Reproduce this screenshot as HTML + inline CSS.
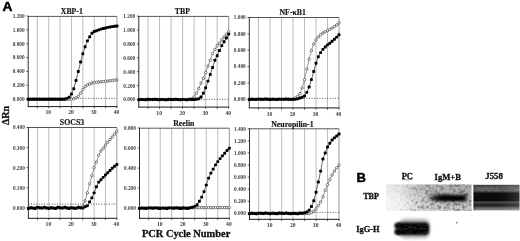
<!DOCTYPE html>
<html><head><meta charset="utf-8"><style>
html,body{margin:0;padding:0;background:#fff;}
body{width:520px;height:241px;overflow:hidden;filter:grayscale(1);}
svg{display:block;}
.tk{font-family:"Liberation Serif", serif;font-size:5.3px;font-weight:bold;fill:#3a3a3a;}
.tk[font-size]{font-size:5.6px;}
.ti{font-family:"Liberation Serif", serif;font-size:7.8px;font-weight:bold;fill:#111;stroke:#111;stroke-width:0.15px;}
.lb{font-family:"Liberation Serif", serif;font-weight:bold;fill:#111;stroke:#111;stroke-width:0.3px;}
.big{font-family:"Liberation Sans", sans-serif;font-weight:bold;fill:#000;stroke:#000;stroke-width:0.45px;}
</style></head><body>
<svg width="520" height="241" viewBox="0 0 520 241">
<rect width="520" height="241" fill="#fff"/>
<text transform="translate(2.4,10.6) scale(1.1,1)" class="big" font-size="12.5">A</text>
<text transform="translate(8.6,115.4) rotate(-90)" class="lb" font-size="10" text-anchor="middle">ΔRn</text>
<text x="186.1" y="237.2" class="lb" font-size="10.4" text-anchor="middle">PCR Cycle Number</text>
<line x1="37.31" y1="16.40" x2="37.31" y2="106.60" stroke="#b4b4b4" stroke-width="0.9"/>
<line x1="48.69" y1="16.40" x2="48.69" y2="106.60" stroke="#b4b4b4" stroke-width="0.9"/>
<line x1="60.08" y1="16.40" x2="60.08" y2="106.60" stroke="#b4b4b4" stroke-width="0.9"/>
<line x1="71.46" y1="16.40" x2="71.46" y2="106.60" stroke="#b4b4b4" stroke-width="0.9"/>
<line x1="82.85" y1="16.40" x2="82.85" y2="106.60" stroke="#b4b4b4" stroke-width="0.9"/>
<line x1="94.23" y1="16.40" x2="94.23" y2="106.60" stroke="#b4b4b4" stroke-width="0.9"/>
<line x1="105.62" y1="16.40" x2="105.62" y2="106.60" stroke="#b4b4b4" stroke-width="0.9"/>
<line x1="117.00" y1="16.40" x2="117.00" y2="106.60" stroke="#8c8c8c" stroke-width="0.9"/>
<line x1="28.20" y1="16.40" x2="117.00" y2="16.40" stroke="#444" stroke-width="0.9"/>
<line x1="28.20" y1="16.00" x2="28.20" y2="107.10" stroke="#1a1a1a" stroke-width="0.9"/>
<line x1="27.80" y1="106.60" x2="117.40" y2="106.60" stroke="#1a1a1a" stroke-width="1"/>
<line x1="37.31" y1="106.60" x2="37.31" y2="108.40" stroke="#1a1a1a" stroke-width="0.7"/>
<line x1="48.69" y1="106.60" x2="48.69" y2="108.40" stroke="#1a1a1a" stroke-width="0.7"/>
<line x1="60.08" y1="106.60" x2="60.08" y2="108.40" stroke="#1a1a1a" stroke-width="0.7"/>
<line x1="71.46" y1="106.60" x2="71.46" y2="108.40" stroke="#1a1a1a" stroke-width="0.7"/>
<line x1="82.85" y1="106.60" x2="82.85" y2="108.40" stroke="#1a1a1a" stroke-width="0.7"/>
<line x1="94.23" y1="106.60" x2="94.23" y2="108.40" stroke="#1a1a1a" stroke-width="0.7"/>
<line x1="105.62" y1="106.60" x2="105.62" y2="108.40" stroke="#1a1a1a" stroke-width="0.7"/>
<line x1="117.00" y1="106.60" x2="117.00" y2="108.40" stroke="#1a1a1a" stroke-width="0.7"/>
<text x="48.29" y="114.30" class="tk" font-size="5.6" text-anchor="middle">10</text>
<text x="71.06" y="114.30" class="tk" font-size="5.6" text-anchor="middle">20</text>
<text x="93.83" y="114.30" class="tk" font-size="5.6" text-anchor="middle">30</text>
<text x="116.60" y="114.30" class="tk" font-size="5.6" text-anchor="middle">40</text>
<line x1="26.30" y1="99.20" x2="28.20" y2="99.20" stroke="#1a1a1a" stroke-width="0.7"/>
<text x="24.60" y="101.10" class="tk" text-anchor="end">0.000</text>
<line x1="26.30" y1="85.32" x2="28.20" y2="85.32" stroke="#1a1a1a" stroke-width="0.7"/>
<text x="24.60" y="87.22" class="tk" text-anchor="end">0.200</text>
<line x1="26.30" y1="71.43" x2="28.20" y2="71.43" stroke="#1a1a1a" stroke-width="0.7"/>
<text x="24.60" y="73.33" class="tk" text-anchor="end">0.400</text>
<line x1="26.30" y1="57.55" x2="28.20" y2="57.55" stroke="#1a1a1a" stroke-width="0.7"/>
<text x="24.60" y="59.45" class="tk" text-anchor="end">0.600</text>
<line x1="26.30" y1="43.67" x2="28.20" y2="43.67" stroke="#1a1a1a" stroke-width="0.7"/>
<text x="24.60" y="45.57" class="tk" text-anchor="end">0.800</text>
<line x1="26.30" y1="29.78" x2="28.20" y2="29.78" stroke="#1a1a1a" stroke-width="0.7"/>
<text x="24.60" y="31.68" class="tk" text-anchor="end">1.000</text>
<line x1="26.30" y1="15.90" x2="28.20" y2="15.90" stroke="#1a1a1a" stroke-width="0.7"/>
<text x="24.60" y="17.80" class="tk" text-anchor="end">1.200</text>
<line x1="28.30" y1="98.30" x2="117.00" y2="98.30" stroke="#222" stroke-width="0.8" stroke-dasharray="1 1.6"/>
<text x="71.80" y="13.90" class="ti" text-anchor="middle">XBP-1</text>
<polyline points="28.20,99.20 30.48,99.20 32.75,99.20 35.03,99.20 37.31,99.20 39.58,99.20 41.86,99.20 44.14,99.20 46.42,99.20 48.69,99.20 50.97,99.20 53.25,99.20 55.52,99.20 57.80,99.20 60.08,99.20 62.35,99.20 64.63,99.20 66.91,99.20 69.18,99.20 71.46,99.20 73.74,98.64 76.02,97.81 78.29,96.42 80.57,93.30 82.85,89.48 85.12,86.70 87.40,84.97 89.68,83.93 91.95,83.10 94.23,82.54 96.51,82.19 98.78,81.95 101.06,81.71 103.34,81.50 105.62,81.29 107.89,81.01 110.17,80.74 112.45,80.46 114.72,80.18 117.00,79.90" fill="none" stroke="#333" stroke-width="0.5"/>
<circle cx="28.20" cy="99.20" r="1.25" fill="#fff" stroke="#1a1a1a" stroke-width="0.55"/>
<circle cx="30.48" cy="99.20" r="1.25" fill="#fff" stroke="#1a1a1a" stroke-width="0.55"/>
<circle cx="32.75" cy="99.20" r="1.25" fill="#fff" stroke="#1a1a1a" stroke-width="0.55"/>
<circle cx="35.03" cy="99.20" r="1.25" fill="#fff" stroke="#1a1a1a" stroke-width="0.55"/>
<circle cx="37.31" cy="99.20" r="1.25" fill="#fff" stroke="#1a1a1a" stroke-width="0.55"/>
<circle cx="39.58" cy="99.20" r="1.25" fill="#fff" stroke="#1a1a1a" stroke-width="0.55"/>
<circle cx="41.86" cy="99.20" r="1.25" fill="#fff" stroke="#1a1a1a" stroke-width="0.55"/>
<circle cx="44.14" cy="99.20" r="1.25" fill="#fff" stroke="#1a1a1a" stroke-width="0.55"/>
<circle cx="46.42" cy="99.20" r="1.25" fill="#fff" stroke="#1a1a1a" stroke-width="0.55"/>
<circle cx="48.69" cy="99.20" r="1.25" fill="#fff" stroke="#1a1a1a" stroke-width="0.55"/>
<circle cx="50.97" cy="99.20" r="1.25" fill="#fff" stroke="#1a1a1a" stroke-width="0.55"/>
<circle cx="53.25" cy="99.20" r="1.25" fill="#fff" stroke="#1a1a1a" stroke-width="0.55"/>
<circle cx="55.52" cy="99.20" r="1.25" fill="#fff" stroke="#1a1a1a" stroke-width="0.55"/>
<circle cx="57.80" cy="99.20" r="1.25" fill="#fff" stroke="#1a1a1a" stroke-width="0.55"/>
<circle cx="60.08" cy="99.20" r="1.25" fill="#fff" stroke="#1a1a1a" stroke-width="0.55"/>
<circle cx="62.35" cy="99.20" r="1.25" fill="#fff" stroke="#1a1a1a" stroke-width="0.55"/>
<circle cx="64.63" cy="99.20" r="1.25" fill="#fff" stroke="#1a1a1a" stroke-width="0.55"/>
<circle cx="66.91" cy="99.20" r="1.25" fill="#fff" stroke="#1a1a1a" stroke-width="0.55"/>
<circle cx="69.18" cy="99.20" r="1.25" fill="#fff" stroke="#1a1a1a" stroke-width="0.55"/>
<circle cx="71.46" cy="99.20" r="1.25" fill="#fff" stroke="#1a1a1a" stroke-width="0.55"/>
<circle cx="73.74" cy="98.64" r="1.25" fill="#fff" stroke="#1a1a1a" stroke-width="0.55"/>
<circle cx="76.02" cy="97.81" r="1.25" fill="#fff" stroke="#1a1a1a" stroke-width="0.55"/>
<circle cx="78.29" cy="96.42" r="1.25" fill="#fff" stroke="#1a1a1a" stroke-width="0.55"/>
<circle cx="80.57" cy="93.30" r="1.25" fill="#fff" stroke="#1a1a1a" stroke-width="0.55"/>
<circle cx="82.85" cy="89.48" r="1.25" fill="#fff" stroke="#1a1a1a" stroke-width="0.55"/>
<circle cx="85.12" cy="86.70" r="1.25" fill="#fff" stroke="#1a1a1a" stroke-width="0.55"/>
<circle cx="87.40" cy="84.97" r="1.25" fill="#fff" stroke="#1a1a1a" stroke-width="0.55"/>
<circle cx="89.68" cy="83.93" r="1.25" fill="#fff" stroke="#1a1a1a" stroke-width="0.55"/>
<circle cx="91.95" cy="83.10" r="1.25" fill="#fff" stroke="#1a1a1a" stroke-width="0.55"/>
<circle cx="94.23" cy="82.54" r="1.25" fill="#fff" stroke="#1a1a1a" stroke-width="0.55"/>
<circle cx="96.51" cy="82.19" r="1.25" fill="#fff" stroke="#1a1a1a" stroke-width="0.55"/>
<circle cx="98.78" cy="81.95" r="1.25" fill="#fff" stroke="#1a1a1a" stroke-width="0.55"/>
<circle cx="101.06" cy="81.71" r="1.25" fill="#fff" stroke="#1a1a1a" stroke-width="0.55"/>
<circle cx="103.34" cy="81.50" r="1.25" fill="#fff" stroke="#1a1a1a" stroke-width="0.55"/>
<circle cx="105.62" cy="81.29" r="1.25" fill="#fff" stroke="#1a1a1a" stroke-width="0.55"/>
<circle cx="107.89" cy="81.01" r="1.25" fill="#fff" stroke="#1a1a1a" stroke-width="0.55"/>
<circle cx="110.17" cy="80.74" r="1.25" fill="#fff" stroke="#1a1a1a" stroke-width="0.55"/>
<circle cx="112.45" cy="80.46" r="1.25" fill="#fff" stroke="#1a1a1a" stroke-width="0.55"/>
<circle cx="114.72" cy="80.18" r="1.25" fill="#fff" stroke="#1a1a1a" stroke-width="0.55"/>
<circle cx="117.00" cy="79.90" r="1.25" fill="#fff" stroke="#1a1a1a" stroke-width="0.55"/>
<polyline points="28.20,99.20 30.48,99.20 32.75,99.20 35.03,99.20 37.31,99.20 39.58,99.20 41.86,99.20 44.14,99.20 46.42,99.20 48.69,99.20 50.97,99.20 53.25,99.20 55.52,99.20 57.80,99.20 60.08,99.20 62.35,99.20 64.63,99.20 66.91,98.37 69.18,97.12 71.46,93.99 73.74,88.79 76.02,80.46 78.29,71.43 80.57,62.06 82.85,53.73 85.12,46.79 87.40,40.89 89.68,36.72 91.95,33.25 94.23,31.52 96.51,30.71 98.78,29.90 101.06,29.09 103.34,28.51 105.62,27.93 107.89,27.35 110.17,27.01 112.45,26.66 114.72,26.31 117.00,25.97" fill="none" stroke="#000" stroke-width="0.6"/>
<rect x="26.75" y="97.75" width="2.9" height="2.9" rx="0.75" fill="#000"/>
<rect x="29.03" y="97.75" width="2.9" height="2.9" rx="0.75" fill="#000"/>
<rect x="31.30" y="97.75" width="2.9" height="2.9" rx="0.75" fill="#000"/>
<rect x="33.58" y="97.75" width="2.9" height="2.9" rx="0.75" fill="#000"/>
<rect x="35.86" y="97.75" width="2.9" height="2.9" rx="0.75" fill="#000"/>
<rect x="38.13" y="97.75" width="2.9" height="2.9" rx="0.75" fill="#000"/>
<rect x="40.41" y="97.75" width="2.9" height="2.9" rx="0.75" fill="#000"/>
<rect x="42.69" y="97.75" width="2.9" height="2.9" rx="0.75" fill="#000"/>
<rect x="44.97" y="97.75" width="2.9" height="2.9" rx="0.75" fill="#000"/>
<rect x="47.24" y="97.75" width="2.9" height="2.9" rx="0.75" fill="#000"/>
<rect x="49.52" y="97.75" width="2.9" height="2.9" rx="0.75" fill="#000"/>
<rect x="51.80" y="97.75" width="2.9" height="2.9" rx="0.75" fill="#000"/>
<rect x="54.07" y="97.75" width="2.9" height="2.9" rx="0.75" fill="#000"/>
<rect x="56.35" y="97.75" width="2.9" height="2.9" rx="0.75" fill="#000"/>
<rect x="58.63" y="97.75" width="2.9" height="2.9" rx="0.75" fill="#000"/>
<rect x="60.90" y="97.75" width="2.9" height="2.9" rx="0.75" fill="#000"/>
<rect x="63.18" y="97.75" width="2.9" height="2.9" rx="0.75" fill="#000"/>
<rect x="65.46" y="96.92" width="2.9" height="2.9" rx="0.75" fill="#000"/>
<rect x="67.73" y="95.67" width="2.9" height="2.9" rx="0.75" fill="#000"/>
<rect x="70.01" y="92.54" width="2.9" height="2.9" rx="0.75" fill="#000"/>
<rect x="72.29" y="87.34" width="2.9" height="2.9" rx="0.75" fill="#000"/>
<rect x="74.57" y="79.01" width="2.9" height="2.9" rx="0.75" fill="#000"/>
<rect x="76.84" y="69.98" width="2.9" height="2.9" rx="0.75" fill="#000"/>
<rect x="79.12" y="60.61" width="2.9" height="2.9" rx="0.75" fill="#000"/>
<rect x="81.40" y="52.28" width="2.9" height="2.9" rx="0.75" fill="#000"/>
<rect x="83.67" y="45.34" width="2.9" height="2.9" rx="0.75" fill="#000"/>
<rect x="85.95" y="39.44" width="2.9" height="2.9" rx="0.75" fill="#000"/>
<rect x="88.23" y="35.27" width="2.9" height="2.9" rx="0.75" fill="#000"/>
<rect x="90.50" y="31.80" width="2.9" height="2.9" rx="0.75" fill="#000"/>
<rect x="92.78" y="30.07" width="2.9" height="2.9" rx="0.75" fill="#000"/>
<rect x="95.06" y="29.26" width="2.9" height="2.9" rx="0.75" fill="#000"/>
<rect x="97.33" y="28.45" width="2.9" height="2.9" rx="0.75" fill="#000"/>
<rect x="99.61" y="27.64" width="2.9" height="2.9" rx="0.75" fill="#000"/>
<rect x="101.89" y="27.06" width="2.9" height="2.9" rx="0.75" fill="#000"/>
<rect x="104.17" y="26.48" width="2.9" height="2.9" rx="0.75" fill="#000"/>
<rect x="106.44" y="25.90" width="2.9" height="2.9" rx="0.75" fill="#000"/>
<rect x="108.72" y="25.56" width="2.9" height="2.9" rx="0.75" fill="#000"/>
<rect x="111.00" y="25.21" width="2.9" height="2.9" rx="0.75" fill="#000"/>
<rect x="113.27" y="24.86" width="2.9" height="2.9" rx="0.75" fill="#000"/>
<rect x="115.55" y="24.52" width="2.9" height="2.9" rx="0.75" fill="#000"/>
<line x1="148.02" y1="16.40" x2="148.02" y2="107.10" stroke="#b4b4b4" stroke-width="0.9"/>
<line x1="159.55" y1="16.40" x2="159.55" y2="107.10" stroke="#b4b4b4" stroke-width="0.9"/>
<line x1="171.07" y1="16.40" x2="171.07" y2="107.10" stroke="#b4b4b4" stroke-width="0.9"/>
<line x1="182.60" y1="16.40" x2="182.60" y2="107.10" stroke="#b4b4b4" stroke-width="0.9"/>
<line x1="194.12" y1="16.40" x2="194.12" y2="107.10" stroke="#b4b4b4" stroke-width="0.9"/>
<line x1="205.65" y1="16.40" x2="205.65" y2="107.10" stroke="#b4b4b4" stroke-width="0.9"/>
<line x1="217.17" y1="16.40" x2="217.17" y2="107.10" stroke="#b4b4b4" stroke-width="0.9"/>
<line x1="228.70" y1="16.40" x2="228.70" y2="107.10" stroke="#8c8c8c" stroke-width="0.9"/>
<line x1="138.80" y1="16.40" x2="228.70" y2="16.40" stroke="#444" stroke-width="0.9"/>
<line x1="138.80" y1="16.00" x2="138.80" y2="107.60" stroke="#1a1a1a" stroke-width="0.9"/>
<line x1="138.40" y1="107.10" x2="229.10" y2="107.10" stroke="#1a1a1a" stroke-width="1"/>
<line x1="148.02" y1="107.10" x2="148.02" y2="108.90" stroke="#1a1a1a" stroke-width="0.7"/>
<line x1="159.55" y1="107.10" x2="159.55" y2="108.90" stroke="#1a1a1a" stroke-width="0.7"/>
<line x1="171.07" y1="107.10" x2="171.07" y2="108.90" stroke="#1a1a1a" stroke-width="0.7"/>
<line x1="182.60" y1="107.10" x2="182.60" y2="108.90" stroke="#1a1a1a" stroke-width="0.7"/>
<line x1="194.12" y1="107.10" x2="194.12" y2="108.90" stroke="#1a1a1a" stroke-width="0.7"/>
<line x1="205.65" y1="107.10" x2="205.65" y2="108.90" stroke="#1a1a1a" stroke-width="0.7"/>
<line x1="217.17" y1="107.10" x2="217.17" y2="108.90" stroke="#1a1a1a" stroke-width="0.7"/>
<line x1="228.70" y1="107.10" x2="228.70" y2="108.90" stroke="#1a1a1a" stroke-width="0.7"/>
<text x="159.15" y="114.80" class="tk" font-size="5.6" text-anchor="middle">10</text>
<text x="182.20" y="114.80" class="tk" font-size="5.6" text-anchor="middle">20</text>
<text x="205.25" y="114.80" class="tk" font-size="5.6" text-anchor="middle">30</text>
<text x="228.30" y="114.80" class="tk" font-size="5.6" text-anchor="middle">40</text>
<line x1="136.90" y1="99.50" x2="138.80" y2="99.50" stroke="#1a1a1a" stroke-width="0.7"/>
<text x="135.20" y="101.40" class="tk" text-anchor="end">0.000</text>
<line x1="136.90" y1="85.60" x2="138.80" y2="85.60" stroke="#1a1a1a" stroke-width="0.7"/>
<text x="135.20" y="87.50" class="tk" text-anchor="end">0.200</text>
<line x1="136.90" y1="71.70" x2="138.80" y2="71.70" stroke="#1a1a1a" stroke-width="0.7"/>
<text x="135.20" y="73.60" class="tk" text-anchor="end">0.400</text>
<line x1="136.90" y1="57.80" x2="138.80" y2="57.80" stroke="#1a1a1a" stroke-width="0.7"/>
<text x="135.20" y="59.70" class="tk" text-anchor="end">0.600</text>
<line x1="136.90" y1="43.90" x2="138.80" y2="43.90" stroke="#1a1a1a" stroke-width="0.7"/>
<text x="135.20" y="45.80" class="tk" text-anchor="end">0.800</text>
<line x1="136.90" y1="30.00" x2="138.80" y2="30.00" stroke="#1a1a1a" stroke-width="0.7"/>
<text x="135.20" y="31.90" class="tk" text-anchor="end">1.000</text>
<line x1="136.90" y1="16.10" x2="138.80" y2="16.10" stroke="#1a1a1a" stroke-width="0.7"/>
<text x="135.20" y="18.00" class="tk" text-anchor="end">1.200</text>
<line x1="138.80" y1="99.30" x2="228.70" y2="99.30" stroke="#222" stroke-width="0.8" stroke-dasharray="1 1.6"/>
<text x="182.40" y="13.90" class="ti" text-anchor="middle">TBP</text>
<polyline points="138.80,99.50 141.11,99.50 143.41,99.50 145.72,99.50 148.02,99.50 150.33,99.50 152.63,99.50 154.94,99.50 157.24,99.50 159.55,99.50 161.85,99.50 164.16,99.50 166.46,99.50 168.77,99.50 171.07,99.50 173.38,99.50 175.68,99.50 177.99,99.50 180.29,99.50 182.60,99.50 184.90,99.50 187.21,99.50 189.51,99.50 191.82,98.81 194.12,97.07 196.43,93.25 198.73,88.38 201.04,83.17 203.34,78.30 205.65,72.39 207.95,66.14 210.26,60.23 212.56,53.63 214.87,49.46 217.17,45.64 219.48,43.20 221.78,39.73 224.09,36.95 226.39,34.17 228.70,31.74" fill="none" stroke="#333" stroke-width="0.5"/>
<circle cx="138.80" cy="99.50" r="1.25" fill="#fff" stroke="#1a1a1a" stroke-width="0.55"/>
<circle cx="141.11" cy="99.50" r="1.25" fill="#fff" stroke="#1a1a1a" stroke-width="0.55"/>
<circle cx="143.41" cy="99.50" r="1.25" fill="#fff" stroke="#1a1a1a" stroke-width="0.55"/>
<circle cx="145.72" cy="99.50" r="1.25" fill="#fff" stroke="#1a1a1a" stroke-width="0.55"/>
<circle cx="148.02" cy="99.50" r="1.25" fill="#fff" stroke="#1a1a1a" stroke-width="0.55"/>
<circle cx="150.33" cy="99.50" r="1.25" fill="#fff" stroke="#1a1a1a" stroke-width="0.55"/>
<circle cx="152.63" cy="99.50" r="1.25" fill="#fff" stroke="#1a1a1a" stroke-width="0.55"/>
<circle cx="154.94" cy="99.50" r="1.25" fill="#fff" stroke="#1a1a1a" stroke-width="0.55"/>
<circle cx="157.24" cy="99.50" r="1.25" fill="#fff" stroke="#1a1a1a" stroke-width="0.55"/>
<circle cx="159.55" cy="99.50" r="1.25" fill="#fff" stroke="#1a1a1a" stroke-width="0.55"/>
<circle cx="161.85" cy="99.50" r="1.25" fill="#fff" stroke="#1a1a1a" stroke-width="0.55"/>
<circle cx="164.16" cy="99.50" r="1.25" fill="#fff" stroke="#1a1a1a" stroke-width="0.55"/>
<circle cx="166.46" cy="99.50" r="1.25" fill="#fff" stroke="#1a1a1a" stroke-width="0.55"/>
<circle cx="168.77" cy="99.50" r="1.25" fill="#fff" stroke="#1a1a1a" stroke-width="0.55"/>
<circle cx="171.07" cy="99.50" r="1.25" fill="#fff" stroke="#1a1a1a" stroke-width="0.55"/>
<circle cx="173.38" cy="99.50" r="1.25" fill="#fff" stroke="#1a1a1a" stroke-width="0.55"/>
<circle cx="175.68" cy="99.50" r="1.25" fill="#fff" stroke="#1a1a1a" stroke-width="0.55"/>
<circle cx="177.99" cy="99.50" r="1.25" fill="#fff" stroke="#1a1a1a" stroke-width="0.55"/>
<circle cx="180.29" cy="99.50" r="1.25" fill="#fff" stroke="#1a1a1a" stroke-width="0.55"/>
<circle cx="182.60" cy="99.50" r="1.25" fill="#fff" stroke="#1a1a1a" stroke-width="0.55"/>
<circle cx="184.90" cy="99.50" r="1.25" fill="#fff" stroke="#1a1a1a" stroke-width="0.55"/>
<circle cx="187.21" cy="99.50" r="1.25" fill="#fff" stroke="#1a1a1a" stroke-width="0.55"/>
<circle cx="189.51" cy="99.50" r="1.25" fill="#fff" stroke="#1a1a1a" stroke-width="0.55"/>
<circle cx="191.82" cy="98.81" r="1.25" fill="#fff" stroke="#1a1a1a" stroke-width="0.55"/>
<circle cx="194.12" cy="97.07" r="1.25" fill="#fff" stroke="#1a1a1a" stroke-width="0.55"/>
<circle cx="196.43" cy="93.25" r="1.25" fill="#fff" stroke="#1a1a1a" stroke-width="0.55"/>
<circle cx="198.73" cy="88.38" r="1.25" fill="#fff" stroke="#1a1a1a" stroke-width="0.55"/>
<circle cx="201.04" cy="83.17" r="1.25" fill="#fff" stroke="#1a1a1a" stroke-width="0.55"/>
<circle cx="203.34" cy="78.30" r="1.25" fill="#fff" stroke="#1a1a1a" stroke-width="0.55"/>
<circle cx="205.65" cy="72.39" r="1.25" fill="#fff" stroke="#1a1a1a" stroke-width="0.55"/>
<circle cx="207.95" cy="66.14" r="1.25" fill="#fff" stroke="#1a1a1a" stroke-width="0.55"/>
<circle cx="210.26" cy="60.23" r="1.25" fill="#fff" stroke="#1a1a1a" stroke-width="0.55"/>
<circle cx="212.56" cy="53.63" r="1.25" fill="#fff" stroke="#1a1a1a" stroke-width="0.55"/>
<circle cx="214.87" cy="49.46" r="1.25" fill="#fff" stroke="#1a1a1a" stroke-width="0.55"/>
<circle cx="217.17" cy="45.64" r="1.25" fill="#fff" stroke="#1a1a1a" stroke-width="0.55"/>
<circle cx="219.48" cy="43.20" r="1.25" fill="#fff" stroke="#1a1a1a" stroke-width="0.55"/>
<circle cx="221.78" cy="39.73" r="1.25" fill="#fff" stroke="#1a1a1a" stroke-width="0.55"/>
<circle cx="224.09" cy="36.95" r="1.25" fill="#fff" stroke="#1a1a1a" stroke-width="0.55"/>
<circle cx="226.39" cy="34.17" r="1.25" fill="#fff" stroke="#1a1a1a" stroke-width="0.55"/>
<circle cx="228.70" cy="31.74" r="1.25" fill="#fff" stroke="#1a1a1a" stroke-width="0.55"/>
<polyline points="138.80,99.74 141.11,99.42 143.41,99.59 145.72,99.70 148.02,99.29 150.33,99.42 152.63,99.57 154.94,99.26 157.24,99.51 159.55,99.73 161.85,99.42 164.16,99.60 166.46,99.70 168.77,99.28 171.07,99.43 173.38,99.57 175.68,99.26 177.99,99.52 180.29,99.73 182.60,99.42 184.90,99.61 187.21,99.69 189.51,99.28 191.82,99.44 194.12,99.56 196.43,99.25 198.73,98.81 201.04,97.07 203.34,93.25 205.65,87.69 207.95,81.08 210.26,74.48 212.56,67.53 214.87,60.23 217.17,55.71 219.48,50.50 221.78,45.64 224.09,41.81 226.39,37.99 228.70,34.17" fill="none" stroke="#000" stroke-width="0.6"/>
<rect x="137.35" y="98.29" width="2.9" height="2.9" rx="0.75" fill="#000"/>
<rect x="139.66" y="97.97" width="2.9" height="2.9" rx="0.75" fill="#000"/>
<rect x="141.96" y="98.14" width="2.9" height="2.9" rx="0.75" fill="#000"/>
<rect x="144.27" y="98.25" width="2.9" height="2.9" rx="0.75" fill="#000"/>
<rect x="146.57" y="97.84" width="2.9" height="2.9" rx="0.75" fill="#000"/>
<rect x="148.88" y="97.97" width="2.9" height="2.9" rx="0.75" fill="#000"/>
<rect x="151.18" y="98.12" width="2.9" height="2.9" rx="0.75" fill="#000"/>
<rect x="153.49" y="97.81" width="2.9" height="2.9" rx="0.75" fill="#000"/>
<rect x="155.79" y="98.06" width="2.9" height="2.9" rx="0.75" fill="#000"/>
<rect x="158.10" y="98.28" width="2.9" height="2.9" rx="0.75" fill="#000"/>
<rect x="160.40" y="97.97" width="2.9" height="2.9" rx="0.75" fill="#000"/>
<rect x="162.71" y="98.15" width="2.9" height="2.9" rx="0.75" fill="#000"/>
<rect x="165.01" y="98.25" width="2.9" height="2.9" rx="0.75" fill="#000"/>
<rect x="167.32" y="97.83" width="2.9" height="2.9" rx="0.75" fill="#000"/>
<rect x="169.62" y="97.98" width="2.9" height="2.9" rx="0.75" fill="#000"/>
<rect x="171.93" y="98.12" width="2.9" height="2.9" rx="0.75" fill="#000"/>
<rect x="174.23" y="97.81" width="2.9" height="2.9" rx="0.75" fill="#000"/>
<rect x="176.54" y="98.07" width="2.9" height="2.9" rx="0.75" fill="#000"/>
<rect x="178.84" y="98.28" width="2.9" height="2.9" rx="0.75" fill="#000"/>
<rect x="181.15" y="97.97" width="2.9" height="2.9" rx="0.75" fill="#000"/>
<rect x="183.45" y="98.16" width="2.9" height="2.9" rx="0.75" fill="#000"/>
<rect x="185.76" y="98.24" width="2.9" height="2.9" rx="0.75" fill="#000"/>
<rect x="188.06" y="97.83" width="2.9" height="2.9" rx="0.75" fill="#000"/>
<rect x="190.37" y="97.99" width="2.9" height="2.9" rx="0.75" fill="#000"/>
<rect x="192.67" y="98.11" width="2.9" height="2.9" rx="0.75" fill="#000"/>
<rect x="194.98" y="97.80" width="2.9" height="2.9" rx="0.75" fill="#000"/>
<rect x="197.28" y="97.36" width="2.9" height="2.9" rx="0.75" fill="#000"/>
<rect x="199.59" y="95.62" width="2.9" height="2.9" rx="0.75" fill="#000"/>
<rect x="201.89" y="91.80" width="2.9" height="2.9" rx="0.75" fill="#000"/>
<rect x="204.20" y="86.23" width="2.9" height="2.9" rx="0.75" fill="#000"/>
<rect x="206.50" y="79.63" width="2.9" height="2.9" rx="0.75" fill="#000"/>
<rect x="208.81" y="73.03" width="2.9" height="2.9" rx="0.75" fill="#000"/>
<rect x="211.11" y="66.08" width="2.9" height="2.9" rx="0.75" fill="#000"/>
<rect x="213.42" y="58.78" width="2.9" height="2.9" rx="0.75" fill="#000"/>
<rect x="215.72" y="54.26" width="2.9" height="2.9" rx="0.75" fill="#000"/>
<rect x="218.03" y="49.05" width="2.9" height="2.9" rx="0.75" fill="#000"/>
<rect x="220.33" y="44.19" width="2.9" height="2.9" rx="0.75" fill="#000"/>
<rect x="222.64" y="40.36" width="2.9" height="2.9" rx="0.75" fill="#000"/>
<rect x="224.94" y="36.54" width="2.9" height="2.9" rx="0.75" fill="#000"/>
<rect x="227.25" y="32.72" width="2.9" height="2.9" rx="0.75" fill="#000"/>
<line x1="258.50" y1="17.50" x2="258.50" y2="107.90" stroke="#b4b4b4" stroke-width="0.9"/>
<line x1="270.00" y1="17.50" x2="270.00" y2="107.90" stroke="#b4b4b4" stroke-width="0.9"/>
<line x1="281.50" y1="17.50" x2="281.50" y2="107.90" stroke="#b4b4b4" stroke-width="0.9"/>
<line x1="293.00" y1="17.50" x2="293.00" y2="107.90" stroke="#b4b4b4" stroke-width="0.9"/>
<line x1="304.50" y1="17.50" x2="304.50" y2="107.90" stroke="#b4b4b4" stroke-width="0.9"/>
<line x1="316.00" y1="17.50" x2="316.00" y2="107.90" stroke="#b4b4b4" stroke-width="0.9"/>
<line x1="327.50" y1="17.50" x2="327.50" y2="107.90" stroke="#b4b4b4" stroke-width="0.9"/>
<line x1="339.00" y1="17.50" x2="339.00" y2="107.90" stroke="#8c8c8c" stroke-width="0.9"/>
<line x1="249.30" y1="17.50" x2="339.00" y2="17.50" stroke="#444" stroke-width="0.9"/>
<line x1="249.30" y1="17.10" x2="249.30" y2="108.40" stroke="#1a1a1a" stroke-width="0.9"/>
<line x1="248.90" y1="107.90" x2="339.40" y2="107.90" stroke="#1a1a1a" stroke-width="1"/>
<line x1="258.50" y1="107.90" x2="258.50" y2="109.70" stroke="#1a1a1a" stroke-width="0.7"/>
<line x1="270.00" y1="107.90" x2="270.00" y2="109.70" stroke="#1a1a1a" stroke-width="0.7"/>
<line x1="281.50" y1="107.90" x2="281.50" y2="109.70" stroke="#1a1a1a" stroke-width="0.7"/>
<line x1="293.00" y1="107.90" x2="293.00" y2="109.70" stroke="#1a1a1a" stroke-width="0.7"/>
<line x1="304.50" y1="107.90" x2="304.50" y2="109.70" stroke="#1a1a1a" stroke-width="0.7"/>
<line x1="316.00" y1="107.90" x2="316.00" y2="109.70" stroke="#1a1a1a" stroke-width="0.7"/>
<line x1="327.50" y1="107.90" x2="327.50" y2="109.70" stroke="#1a1a1a" stroke-width="0.7"/>
<line x1="339.00" y1="107.90" x2="339.00" y2="109.70" stroke="#1a1a1a" stroke-width="0.7"/>
<text x="269.60" y="115.60" class="tk" font-size="5.6" text-anchor="middle">10</text>
<text x="292.60" y="115.60" class="tk" font-size="5.6" text-anchor="middle">20</text>
<text x="315.60" y="115.60" class="tk" font-size="5.6" text-anchor="middle">30</text>
<text x="338.60" y="115.60" class="tk" font-size="5.6" text-anchor="middle">40</text>
<line x1="247.40" y1="99.30" x2="249.30" y2="99.30" stroke="#1a1a1a" stroke-width="0.7"/>
<text x="245.70" y="101.20" class="tk" text-anchor="end">0.000</text>
<line x1="247.40" y1="82.94" x2="249.30" y2="82.94" stroke="#1a1a1a" stroke-width="0.7"/>
<text x="245.70" y="84.84" class="tk" text-anchor="end">0.200</text>
<line x1="247.40" y1="66.58" x2="249.30" y2="66.58" stroke="#1a1a1a" stroke-width="0.7"/>
<text x="245.70" y="68.48" class="tk" text-anchor="end">0.400</text>
<line x1="247.40" y1="50.22" x2="249.30" y2="50.22" stroke="#1a1a1a" stroke-width="0.7"/>
<text x="245.70" y="52.12" class="tk" text-anchor="end">0.600</text>
<line x1="247.40" y1="33.86" x2="249.30" y2="33.86" stroke="#1a1a1a" stroke-width="0.7"/>
<text x="245.70" y="35.76" class="tk" text-anchor="end">0.800</text>
<line x1="247.40" y1="17.50" x2="249.30" y2="17.50" stroke="#1a1a1a" stroke-width="0.7"/>
<text x="245.70" y="19.40" class="tk" text-anchor="end">1.000</text>
<line x1="249.20" y1="98.30" x2="339.00" y2="98.30" stroke="#222" stroke-width="0.8" stroke-dasharray="1 1.6"/>
<text x="292.70" y="14.80" class="ti" text-anchor="middle">NF-κB1</text>
<polyline points="249.30,99.30 251.60,99.30 253.90,99.30 256.20,99.30 258.50,99.30 260.80,99.30 263.10,99.30 265.40,99.30 267.70,99.30 270.00,99.30 272.30,99.30 274.60,99.30 276.90,99.30 279.20,99.30 281.50,99.30 283.80,99.30 286.10,99.30 288.40,99.30 290.70,99.30 293.00,99.30 295.30,98.07 297.60,96.44 299.90,93.57 302.20,87.85 304.50,79.67 306.80,69.03 309.10,59.22 311.40,50.63 313.70,44.08 316.00,40.00 318.30,36.97 320.60,34.68 322.90,33.04 325.20,31.81 327.50,30.59 329.80,29.36 332.10,28.13 334.40,26.50 336.70,24.86 339.00,22.82" fill="none" stroke="#333" stroke-width="0.5"/>
<circle cx="249.30" cy="99.30" r="1.25" fill="#fff" stroke="#1a1a1a" stroke-width="0.55"/>
<circle cx="251.60" cy="99.30" r="1.25" fill="#fff" stroke="#1a1a1a" stroke-width="0.55"/>
<circle cx="253.90" cy="99.30" r="1.25" fill="#fff" stroke="#1a1a1a" stroke-width="0.55"/>
<circle cx="256.20" cy="99.30" r="1.25" fill="#fff" stroke="#1a1a1a" stroke-width="0.55"/>
<circle cx="258.50" cy="99.30" r="1.25" fill="#fff" stroke="#1a1a1a" stroke-width="0.55"/>
<circle cx="260.80" cy="99.30" r="1.25" fill="#fff" stroke="#1a1a1a" stroke-width="0.55"/>
<circle cx="263.10" cy="99.30" r="1.25" fill="#fff" stroke="#1a1a1a" stroke-width="0.55"/>
<circle cx="265.40" cy="99.30" r="1.25" fill="#fff" stroke="#1a1a1a" stroke-width="0.55"/>
<circle cx="267.70" cy="99.30" r="1.25" fill="#fff" stroke="#1a1a1a" stroke-width="0.55"/>
<circle cx="270.00" cy="99.30" r="1.25" fill="#fff" stroke="#1a1a1a" stroke-width="0.55"/>
<circle cx="272.30" cy="99.30" r="1.25" fill="#fff" stroke="#1a1a1a" stroke-width="0.55"/>
<circle cx="274.60" cy="99.30" r="1.25" fill="#fff" stroke="#1a1a1a" stroke-width="0.55"/>
<circle cx="276.90" cy="99.30" r="1.25" fill="#fff" stroke="#1a1a1a" stroke-width="0.55"/>
<circle cx="279.20" cy="99.30" r="1.25" fill="#fff" stroke="#1a1a1a" stroke-width="0.55"/>
<circle cx="281.50" cy="99.30" r="1.25" fill="#fff" stroke="#1a1a1a" stroke-width="0.55"/>
<circle cx="283.80" cy="99.30" r="1.25" fill="#fff" stroke="#1a1a1a" stroke-width="0.55"/>
<circle cx="286.10" cy="99.30" r="1.25" fill="#fff" stroke="#1a1a1a" stroke-width="0.55"/>
<circle cx="288.40" cy="99.30" r="1.25" fill="#fff" stroke="#1a1a1a" stroke-width="0.55"/>
<circle cx="290.70" cy="99.30" r="1.25" fill="#fff" stroke="#1a1a1a" stroke-width="0.55"/>
<circle cx="293.00" cy="99.30" r="1.25" fill="#fff" stroke="#1a1a1a" stroke-width="0.55"/>
<circle cx="295.30" cy="98.07" r="1.25" fill="#fff" stroke="#1a1a1a" stroke-width="0.55"/>
<circle cx="297.60" cy="96.44" r="1.25" fill="#fff" stroke="#1a1a1a" stroke-width="0.55"/>
<circle cx="299.90" cy="93.57" r="1.25" fill="#fff" stroke="#1a1a1a" stroke-width="0.55"/>
<circle cx="302.20" cy="87.85" r="1.25" fill="#fff" stroke="#1a1a1a" stroke-width="0.55"/>
<circle cx="304.50" cy="79.67" r="1.25" fill="#fff" stroke="#1a1a1a" stroke-width="0.55"/>
<circle cx="306.80" cy="69.03" r="1.25" fill="#fff" stroke="#1a1a1a" stroke-width="0.55"/>
<circle cx="309.10" cy="59.22" r="1.25" fill="#fff" stroke="#1a1a1a" stroke-width="0.55"/>
<circle cx="311.40" cy="50.63" r="1.25" fill="#fff" stroke="#1a1a1a" stroke-width="0.55"/>
<circle cx="313.70" cy="44.08" r="1.25" fill="#fff" stroke="#1a1a1a" stroke-width="0.55"/>
<circle cx="316.00" cy="40.00" r="1.25" fill="#fff" stroke="#1a1a1a" stroke-width="0.55"/>
<circle cx="318.30" cy="36.97" r="1.25" fill="#fff" stroke="#1a1a1a" stroke-width="0.55"/>
<circle cx="320.60" cy="34.68" r="1.25" fill="#fff" stroke="#1a1a1a" stroke-width="0.55"/>
<circle cx="322.90" cy="33.04" r="1.25" fill="#fff" stroke="#1a1a1a" stroke-width="0.55"/>
<circle cx="325.20" cy="31.81" r="1.25" fill="#fff" stroke="#1a1a1a" stroke-width="0.55"/>
<circle cx="327.50" cy="30.59" r="1.25" fill="#fff" stroke="#1a1a1a" stroke-width="0.55"/>
<circle cx="329.80" cy="29.36" r="1.25" fill="#fff" stroke="#1a1a1a" stroke-width="0.55"/>
<circle cx="332.10" cy="28.13" r="1.25" fill="#fff" stroke="#1a1a1a" stroke-width="0.55"/>
<circle cx="334.40" cy="26.50" r="1.25" fill="#fff" stroke="#1a1a1a" stroke-width="0.55"/>
<circle cx="336.70" cy="24.86" r="1.25" fill="#fff" stroke="#1a1a1a" stroke-width="0.55"/>
<circle cx="339.00" cy="22.82" r="1.25" fill="#fff" stroke="#1a1a1a" stroke-width="0.55"/>
<polyline points="249.30,99.54 251.60,99.22 253.90,99.39 256.20,99.50 258.50,99.09 260.80,99.22 263.10,99.37 265.40,99.06 267.70,99.31 270.00,99.53 272.30,99.22 274.60,99.40 276.90,99.50 279.20,99.08 281.50,99.23 283.80,99.37 286.10,99.06 288.40,99.32 290.70,99.53 293.00,99.22 295.30,99.41 297.60,98.84 299.90,98.07 302.20,97.25 304.50,96.03 306.80,92.35 309.10,87.03 311.40,79.67 313.70,71.49 316.00,63.31 318.30,56.76 320.60,52.67 322.90,49.40 325.20,46.95 327.50,44.90 329.80,43.27 332.10,41.22 334.40,39.18 336.70,37.13 339.00,34.68" fill="none" stroke="#000" stroke-width="0.6"/>
<rect x="247.85" y="98.09" width="2.9" height="2.9" rx="0.75" fill="#000"/>
<rect x="250.15" y="97.77" width="2.9" height="2.9" rx="0.75" fill="#000"/>
<rect x="252.45" y="97.94" width="2.9" height="2.9" rx="0.75" fill="#000"/>
<rect x="254.75" y="98.05" width="2.9" height="2.9" rx="0.75" fill="#000"/>
<rect x="257.05" y="97.64" width="2.9" height="2.9" rx="0.75" fill="#000"/>
<rect x="259.35" y="97.77" width="2.9" height="2.9" rx="0.75" fill="#000"/>
<rect x="261.65" y="97.92" width="2.9" height="2.9" rx="0.75" fill="#000"/>
<rect x="263.95" y="97.61" width="2.9" height="2.9" rx="0.75" fill="#000"/>
<rect x="266.25" y="97.86" width="2.9" height="2.9" rx="0.75" fill="#000"/>
<rect x="268.55" y="98.08" width="2.9" height="2.9" rx="0.75" fill="#000"/>
<rect x="270.85" y="97.77" width="2.9" height="2.9" rx="0.75" fill="#000"/>
<rect x="273.15" y="97.95" width="2.9" height="2.9" rx="0.75" fill="#000"/>
<rect x="275.45" y="98.05" width="2.9" height="2.9" rx="0.75" fill="#000"/>
<rect x="277.75" y="97.63" width="2.9" height="2.9" rx="0.75" fill="#000"/>
<rect x="280.05" y="97.78" width="2.9" height="2.9" rx="0.75" fill="#000"/>
<rect x="282.35" y="97.92" width="2.9" height="2.9" rx="0.75" fill="#000"/>
<rect x="284.65" y="97.61" width="2.9" height="2.9" rx="0.75" fill="#000"/>
<rect x="286.95" y="97.87" width="2.9" height="2.9" rx="0.75" fill="#000"/>
<rect x="289.25" y="98.08" width="2.9" height="2.9" rx="0.75" fill="#000"/>
<rect x="291.55" y="97.77" width="2.9" height="2.9" rx="0.75" fill="#000"/>
<rect x="293.85" y="97.96" width="2.9" height="2.9" rx="0.75" fill="#000"/>
<rect x="296.15" y="97.39" width="2.9" height="2.9" rx="0.75" fill="#000"/>
<rect x="298.45" y="96.62" width="2.9" height="2.9" rx="0.75" fill="#000"/>
<rect x="300.75" y="95.80" width="2.9" height="2.9" rx="0.75" fill="#000"/>
<rect x="303.05" y="94.58" width="2.9" height="2.9" rx="0.75" fill="#000"/>
<rect x="305.35" y="90.90" width="2.9" height="2.9" rx="0.75" fill="#000"/>
<rect x="307.65" y="85.58" width="2.9" height="2.9" rx="0.75" fill="#000"/>
<rect x="309.95" y="78.22" width="2.9" height="2.9" rx="0.75" fill="#000"/>
<rect x="312.25" y="70.04" width="2.9" height="2.9" rx="0.75" fill="#000"/>
<rect x="314.55" y="61.86" width="2.9" height="2.9" rx="0.75" fill="#000"/>
<rect x="316.85" y="55.31" width="2.9" height="2.9" rx="0.75" fill="#000"/>
<rect x="319.15" y="51.22" width="2.9" height="2.9" rx="0.75" fill="#000"/>
<rect x="321.45" y="47.95" width="2.9" height="2.9" rx="0.75" fill="#000"/>
<rect x="323.75" y="45.50" width="2.9" height="2.9" rx="0.75" fill="#000"/>
<rect x="326.05" y="43.45" width="2.9" height="2.9" rx="0.75" fill="#000"/>
<rect x="328.35" y="41.82" width="2.9" height="2.9" rx="0.75" fill="#000"/>
<rect x="330.65" y="39.77" width="2.9" height="2.9" rx="0.75" fill="#000"/>
<rect x="332.95" y="37.73" width="2.9" height="2.9" rx="0.75" fill="#000"/>
<rect x="335.25" y="35.68" width="2.9" height="2.9" rx="0.75" fill="#000"/>
<rect x="337.55" y="33.23" width="2.9" height="2.9" rx="0.75" fill="#000"/>
<line x1="37.47" y1="127.50" x2="37.47" y2="218.30" stroke="#b4b4b4" stroke-width="0.9"/>
<line x1="48.80" y1="127.50" x2="48.80" y2="218.30" stroke="#b4b4b4" stroke-width="0.9"/>
<line x1="60.13" y1="127.50" x2="60.13" y2="218.30" stroke="#b4b4b4" stroke-width="0.9"/>
<line x1="71.47" y1="127.50" x2="71.47" y2="218.30" stroke="#b4b4b4" stroke-width="0.9"/>
<line x1="82.80" y1="127.50" x2="82.80" y2="218.30" stroke="#b4b4b4" stroke-width="0.9"/>
<line x1="94.13" y1="127.50" x2="94.13" y2="218.30" stroke="#b4b4b4" stroke-width="0.9"/>
<line x1="105.47" y1="127.50" x2="105.47" y2="218.30" stroke="#b4b4b4" stroke-width="0.9"/>
<line x1="116.80" y1="127.50" x2="116.80" y2="218.30" stroke="#8c8c8c" stroke-width="0.9"/>
<line x1="28.40" y1="127.50" x2="116.80" y2="127.50" stroke="#444" stroke-width="0.9"/>
<line x1="28.40" y1="127.10" x2="28.40" y2="218.80" stroke="#1a1a1a" stroke-width="0.9"/>
<line x1="28.00" y1="218.30" x2="117.20" y2="218.30" stroke="#1a1a1a" stroke-width="1"/>
<line x1="37.47" y1="218.30" x2="37.47" y2="220.10" stroke="#1a1a1a" stroke-width="0.7"/>
<line x1="48.80" y1="218.30" x2="48.80" y2="220.10" stroke="#1a1a1a" stroke-width="0.7"/>
<line x1="60.13" y1="218.30" x2="60.13" y2="220.10" stroke="#1a1a1a" stroke-width="0.7"/>
<line x1="71.47" y1="218.30" x2="71.47" y2="220.10" stroke="#1a1a1a" stroke-width="0.7"/>
<line x1="82.80" y1="218.30" x2="82.80" y2="220.10" stroke="#1a1a1a" stroke-width="0.7"/>
<line x1="94.13" y1="218.30" x2="94.13" y2="220.10" stroke="#1a1a1a" stroke-width="0.7"/>
<line x1="105.47" y1="218.30" x2="105.47" y2="220.10" stroke="#1a1a1a" stroke-width="0.7"/>
<line x1="116.80" y1="218.30" x2="116.80" y2="220.10" stroke="#1a1a1a" stroke-width="0.7"/>
<text x="48.40" y="226.00" class="tk" font-size="5.6" text-anchor="middle">10</text>
<text x="71.07" y="226.00" class="tk" font-size="5.6" text-anchor="middle">20</text>
<text x="93.73" y="226.00" class="tk" font-size="5.6" text-anchor="middle">30</text>
<text x="116.40" y="226.00" class="tk" font-size="5.6" text-anchor="middle">40</text>
<line x1="26.50" y1="207.90" x2="28.40" y2="207.90" stroke="#1a1a1a" stroke-width="0.7"/>
<text x="24.80" y="209.80" class="tk" text-anchor="end">0.000</text>
<line x1="26.50" y1="187.80" x2="28.40" y2="187.80" stroke="#1a1a1a" stroke-width="0.7"/>
<text x="24.80" y="189.70" class="tk" text-anchor="end">0.100</text>
<line x1="26.50" y1="167.70" x2="28.40" y2="167.70" stroke="#1a1a1a" stroke-width="0.7"/>
<text x="24.80" y="169.60" class="tk" text-anchor="end">0.200</text>
<line x1="26.50" y1="147.60" x2="28.40" y2="147.60" stroke="#1a1a1a" stroke-width="0.7"/>
<text x="24.80" y="149.50" class="tk" text-anchor="end">0.300</text>
<line x1="26.50" y1="127.50" x2="28.40" y2="127.50" stroke="#1a1a1a" stroke-width="0.7"/>
<text x="24.80" y="129.40" class="tk" text-anchor="end">0.400</text>
<line x1="28.40" y1="204.10" x2="116.80" y2="204.10" stroke="#222" stroke-width="0.8" stroke-dasharray="1 1.6"/>
<text x="72.00" y="124.70" class="ti" text-anchor="middle">SOCS3</text>
<polyline points="28.40,207.90 30.67,207.90 32.93,207.90 35.20,207.90 37.47,207.90 39.73,207.90 42.00,207.90 44.27,207.90 46.53,207.90 48.80,207.90 51.07,207.90 53.33,207.90 55.60,207.90 57.87,207.90 60.13,207.90 62.40,207.90 64.67,207.90 66.93,207.90 69.20,207.90 71.47,207.90 73.73,207.90 76.00,207.90 78.27,207.90 80.53,207.90 82.80,206.29 85.07,200.87 87.33,192.83 89.60,183.78 91.87,175.74 94.13,167.70 96.40,162.07 98.67,155.24 100.93,151.02 103.20,148.20 105.47,145.19 107.73,142.17 110.00,139.56 112.27,136.95 114.53,134.13 116.80,131.12" fill="none" stroke="#333" stroke-width="0.5"/>
<circle cx="28.40" cy="207.90" r="1.25" fill="#fff" stroke="#1a1a1a" stroke-width="0.55"/>
<circle cx="30.67" cy="207.90" r="1.25" fill="#fff" stroke="#1a1a1a" stroke-width="0.55"/>
<circle cx="32.93" cy="207.90" r="1.25" fill="#fff" stroke="#1a1a1a" stroke-width="0.55"/>
<circle cx="35.20" cy="207.90" r="1.25" fill="#fff" stroke="#1a1a1a" stroke-width="0.55"/>
<circle cx="37.47" cy="207.90" r="1.25" fill="#fff" stroke="#1a1a1a" stroke-width="0.55"/>
<circle cx="39.73" cy="207.90" r="1.25" fill="#fff" stroke="#1a1a1a" stroke-width="0.55"/>
<circle cx="42.00" cy="207.90" r="1.25" fill="#fff" stroke="#1a1a1a" stroke-width="0.55"/>
<circle cx="44.27" cy="207.90" r="1.25" fill="#fff" stroke="#1a1a1a" stroke-width="0.55"/>
<circle cx="46.53" cy="207.90" r="1.25" fill="#fff" stroke="#1a1a1a" stroke-width="0.55"/>
<circle cx="48.80" cy="207.90" r="1.25" fill="#fff" stroke="#1a1a1a" stroke-width="0.55"/>
<circle cx="51.07" cy="207.90" r="1.25" fill="#fff" stroke="#1a1a1a" stroke-width="0.55"/>
<circle cx="53.33" cy="207.90" r="1.25" fill="#fff" stroke="#1a1a1a" stroke-width="0.55"/>
<circle cx="55.60" cy="207.90" r="1.25" fill="#fff" stroke="#1a1a1a" stroke-width="0.55"/>
<circle cx="57.87" cy="207.90" r="1.25" fill="#fff" stroke="#1a1a1a" stroke-width="0.55"/>
<circle cx="60.13" cy="207.90" r="1.25" fill="#fff" stroke="#1a1a1a" stroke-width="0.55"/>
<circle cx="62.40" cy="207.90" r="1.25" fill="#fff" stroke="#1a1a1a" stroke-width="0.55"/>
<circle cx="64.67" cy="207.90" r="1.25" fill="#fff" stroke="#1a1a1a" stroke-width="0.55"/>
<circle cx="66.93" cy="207.90" r="1.25" fill="#fff" stroke="#1a1a1a" stroke-width="0.55"/>
<circle cx="69.20" cy="207.90" r="1.25" fill="#fff" stroke="#1a1a1a" stroke-width="0.55"/>
<circle cx="71.47" cy="207.90" r="1.25" fill="#fff" stroke="#1a1a1a" stroke-width="0.55"/>
<circle cx="73.73" cy="207.90" r="1.25" fill="#fff" stroke="#1a1a1a" stroke-width="0.55"/>
<circle cx="76.00" cy="207.90" r="1.25" fill="#fff" stroke="#1a1a1a" stroke-width="0.55"/>
<circle cx="78.27" cy="207.90" r="1.25" fill="#fff" stroke="#1a1a1a" stroke-width="0.55"/>
<circle cx="80.53" cy="207.90" r="1.25" fill="#fff" stroke="#1a1a1a" stroke-width="0.55"/>
<circle cx="82.80" cy="206.29" r="1.25" fill="#fff" stroke="#1a1a1a" stroke-width="0.55"/>
<circle cx="85.07" cy="200.87" r="1.25" fill="#fff" stroke="#1a1a1a" stroke-width="0.55"/>
<circle cx="87.33" cy="192.83" r="1.25" fill="#fff" stroke="#1a1a1a" stroke-width="0.55"/>
<circle cx="89.60" cy="183.78" r="1.25" fill="#fff" stroke="#1a1a1a" stroke-width="0.55"/>
<circle cx="91.87" cy="175.74" r="1.25" fill="#fff" stroke="#1a1a1a" stroke-width="0.55"/>
<circle cx="94.13" cy="167.70" r="1.25" fill="#fff" stroke="#1a1a1a" stroke-width="0.55"/>
<circle cx="96.40" cy="162.07" r="1.25" fill="#fff" stroke="#1a1a1a" stroke-width="0.55"/>
<circle cx="98.67" cy="155.24" r="1.25" fill="#fff" stroke="#1a1a1a" stroke-width="0.55"/>
<circle cx="100.93" cy="151.02" r="1.25" fill="#fff" stroke="#1a1a1a" stroke-width="0.55"/>
<circle cx="103.20" cy="148.20" r="1.25" fill="#fff" stroke="#1a1a1a" stroke-width="0.55"/>
<circle cx="105.47" cy="145.19" r="1.25" fill="#fff" stroke="#1a1a1a" stroke-width="0.55"/>
<circle cx="107.73" cy="142.17" r="1.25" fill="#fff" stroke="#1a1a1a" stroke-width="0.55"/>
<circle cx="110.00" cy="139.56" r="1.25" fill="#fff" stroke="#1a1a1a" stroke-width="0.55"/>
<circle cx="112.27" cy="136.95" r="1.25" fill="#fff" stroke="#1a1a1a" stroke-width="0.55"/>
<circle cx="114.53" cy="134.13" r="1.25" fill="#fff" stroke="#1a1a1a" stroke-width="0.55"/>
<circle cx="116.80" cy="131.12" r="1.25" fill="#fff" stroke="#1a1a1a" stroke-width="0.55"/>
<polyline points="28.40,208.55 30.67,207.69 32.93,208.15 35.20,208.46 37.47,207.32 39.73,207.68 42.00,208.09 44.27,207.24 46.53,207.93 48.80,208.54 51.07,207.68 53.33,208.17 55.60,208.44 57.87,207.30 60.13,207.70 62.40,208.08 64.67,207.23 66.93,207.96 69.20,208.53 71.47,207.67 73.73,208.20 76.00,208.42 78.27,207.29 80.53,207.73 82.80,208.06 85.07,206.82 87.33,205.89 89.60,201.87 91.87,197.85 94.13,192.83 96.40,186.80 98.67,182.17 100.93,179.76 103.20,177.35 105.47,174.94 107.73,172.73 110.00,170.51 112.27,168.30 114.53,166.29 116.80,164.48" fill="none" stroke="#000" stroke-width="0.6"/>
<rect x="26.95" y="207.10" width="2.9" height="2.9" rx="0.75" fill="#000"/>
<rect x="29.22" y="206.24" width="2.9" height="2.9" rx="0.75" fill="#000"/>
<rect x="31.48" y="206.70" width="2.9" height="2.9" rx="0.75" fill="#000"/>
<rect x="33.75" y="207.01" width="2.9" height="2.9" rx="0.75" fill="#000"/>
<rect x="36.02" y="205.87" width="2.9" height="2.9" rx="0.75" fill="#000"/>
<rect x="38.28" y="206.23" width="2.9" height="2.9" rx="0.75" fill="#000"/>
<rect x="40.55" y="206.64" width="2.9" height="2.9" rx="0.75" fill="#000"/>
<rect x="42.82" y="205.79" width="2.9" height="2.9" rx="0.75" fill="#000"/>
<rect x="45.08" y="206.48" width="2.9" height="2.9" rx="0.75" fill="#000"/>
<rect x="47.35" y="207.09" width="2.9" height="2.9" rx="0.75" fill="#000"/>
<rect x="49.62" y="206.23" width="2.9" height="2.9" rx="0.75" fill="#000"/>
<rect x="51.88" y="206.72" width="2.9" height="2.9" rx="0.75" fill="#000"/>
<rect x="54.15" y="206.99" width="2.9" height="2.9" rx="0.75" fill="#000"/>
<rect x="56.42" y="205.85" width="2.9" height="2.9" rx="0.75" fill="#000"/>
<rect x="58.68" y="206.25" width="2.9" height="2.9" rx="0.75" fill="#000"/>
<rect x="60.95" y="206.63" width="2.9" height="2.9" rx="0.75" fill="#000"/>
<rect x="63.22" y="205.78" width="2.9" height="2.9" rx="0.75" fill="#000"/>
<rect x="65.48" y="206.51" width="2.9" height="2.9" rx="0.75" fill="#000"/>
<rect x="67.75" y="207.08" width="2.9" height="2.9" rx="0.75" fill="#000"/>
<rect x="70.02" y="206.22" width="2.9" height="2.9" rx="0.75" fill="#000"/>
<rect x="72.28" y="206.75" width="2.9" height="2.9" rx="0.75" fill="#000"/>
<rect x="74.55" y="206.97" width="2.9" height="2.9" rx="0.75" fill="#000"/>
<rect x="76.82" y="205.84" width="2.9" height="2.9" rx="0.75" fill="#000"/>
<rect x="79.08" y="206.28" width="2.9" height="2.9" rx="0.75" fill="#000"/>
<rect x="81.35" y="206.61" width="2.9" height="2.9" rx="0.75" fill="#000"/>
<rect x="83.62" y="205.37" width="2.9" height="2.9" rx="0.75" fill="#000"/>
<rect x="85.88" y="204.44" width="2.9" height="2.9" rx="0.75" fill="#000"/>
<rect x="88.15" y="200.42" width="2.9" height="2.9" rx="0.75" fill="#000"/>
<rect x="90.42" y="196.40" width="2.9" height="2.9" rx="0.75" fill="#000"/>
<rect x="92.68" y="191.38" width="2.9" height="2.9" rx="0.75" fill="#000"/>
<rect x="94.95" y="185.35" width="2.9" height="2.9" rx="0.75" fill="#000"/>
<rect x="97.22" y="180.72" width="2.9" height="2.9" rx="0.75" fill="#000"/>
<rect x="99.48" y="178.31" width="2.9" height="2.9" rx="0.75" fill="#000"/>
<rect x="101.75" y="175.90" width="2.9" height="2.9" rx="0.75" fill="#000"/>
<rect x="104.02" y="173.49" width="2.9" height="2.9" rx="0.75" fill="#000"/>
<rect x="106.28" y="171.28" width="2.9" height="2.9" rx="0.75" fill="#000"/>
<rect x="108.55" y="169.06" width="2.9" height="2.9" rx="0.75" fill="#000"/>
<rect x="110.82" y="166.85" width="2.9" height="2.9" rx="0.75" fill="#000"/>
<rect x="113.08" y="164.84" width="2.9" height="2.9" rx="0.75" fill="#000"/>
<rect x="115.35" y="163.03" width="2.9" height="2.9" rx="0.75" fill="#000"/>
<line x1="148.71" y1="128.20" x2="148.71" y2="218.30" stroke="#b4b4b4" stroke-width="0.9"/>
<line x1="160.22" y1="128.20" x2="160.22" y2="218.30" stroke="#b4b4b4" stroke-width="0.9"/>
<line x1="171.74" y1="128.20" x2="171.74" y2="218.30" stroke="#b4b4b4" stroke-width="0.9"/>
<line x1="183.25" y1="128.20" x2="183.25" y2="218.30" stroke="#b4b4b4" stroke-width="0.9"/>
<line x1="194.76" y1="128.20" x2="194.76" y2="218.30" stroke="#b4b4b4" stroke-width="0.9"/>
<line x1="206.27" y1="128.20" x2="206.27" y2="218.30" stroke="#b4b4b4" stroke-width="0.9"/>
<line x1="217.79" y1="128.20" x2="217.79" y2="218.30" stroke="#b4b4b4" stroke-width="0.9"/>
<line x1="229.30" y1="128.20" x2="229.30" y2="218.30" stroke="#8c8c8c" stroke-width="0.9"/>
<line x1="139.50" y1="128.20" x2="229.30" y2="128.20" stroke="#444" stroke-width="0.9"/>
<line x1="139.50" y1="127.80" x2="139.50" y2="218.80" stroke="#1a1a1a" stroke-width="0.9"/>
<line x1="139.10" y1="218.30" x2="229.70" y2="218.30" stroke="#1a1a1a" stroke-width="1"/>
<line x1="148.71" y1="218.30" x2="148.71" y2="220.10" stroke="#1a1a1a" stroke-width="0.7"/>
<line x1="160.22" y1="218.30" x2="160.22" y2="220.10" stroke="#1a1a1a" stroke-width="0.7"/>
<line x1="171.74" y1="218.30" x2="171.74" y2="220.10" stroke="#1a1a1a" stroke-width="0.7"/>
<line x1="183.25" y1="218.30" x2="183.25" y2="220.10" stroke="#1a1a1a" stroke-width="0.7"/>
<line x1="194.76" y1="218.30" x2="194.76" y2="220.10" stroke="#1a1a1a" stroke-width="0.7"/>
<line x1="206.27" y1="218.30" x2="206.27" y2="220.10" stroke="#1a1a1a" stroke-width="0.7"/>
<line x1="217.79" y1="218.30" x2="217.79" y2="220.10" stroke="#1a1a1a" stroke-width="0.7"/>
<line x1="229.30" y1="218.30" x2="229.30" y2="220.10" stroke="#1a1a1a" stroke-width="0.7"/>
<text x="159.82" y="226.00" class="tk" font-size="5.6" text-anchor="middle">10</text>
<text x="182.85" y="226.00" class="tk" font-size="5.6" text-anchor="middle">20</text>
<text x="205.87" y="226.00" class="tk" font-size="5.6" text-anchor="middle">30</text>
<text x="228.90" y="226.00" class="tk" font-size="5.6" text-anchor="middle">40</text>
<line x1="137.60" y1="208.20" x2="139.50" y2="208.20" stroke="#1a1a1a" stroke-width="0.7"/>
<text x="135.90" y="210.10" class="tk" text-anchor="end">0.000</text>
<line x1="137.60" y1="188.15" x2="139.50" y2="188.15" stroke="#1a1a1a" stroke-width="0.7"/>
<text x="135.90" y="190.05" class="tk" text-anchor="end">0.200</text>
<line x1="137.60" y1="168.10" x2="139.50" y2="168.10" stroke="#1a1a1a" stroke-width="0.7"/>
<text x="135.90" y="170.00" class="tk" text-anchor="end">0.400</text>
<line x1="137.60" y1="148.05" x2="139.50" y2="148.05" stroke="#1a1a1a" stroke-width="0.7"/>
<text x="135.90" y="149.95" class="tk" text-anchor="end">0.600</text>
<line x1="137.60" y1="128.00" x2="139.50" y2="128.00" stroke="#1a1a1a" stroke-width="0.7"/>
<text x="135.90" y="129.90" class="tk" text-anchor="end">0.800</text>
<line x1="139.50" y1="207.60" x2="229.30" y2="207.60" stroke="#222" stroke-width="0.8" stroke-dasharray="1 1.6"/>
<text x="183.80" y="125.60" class="ti" text-anchor="middle">Reelin</text>
<polyline points="139.50,207.80 141.80,207.79 144.11,207.79 146.41,207.78 148.71,207.78 151.01,207.77 153.32,207.77 155.62,207.76 157.92,207.76 160.22,207.75 162.53,207.75 164.83,207.74 167.13,207.74 169.43,207.73 171.74,207.73 174.04,207.72 176.34,207.72 178.64,207.71 180.95,207.71 183.25,207.70 185.55,207.70 187.85,207.69 190.16,207.69 192.46,207.68 194.76,207.68 197.06,207.67 199.37,207.67 201.67,207.66 203.97,207.66 206.27,207.65 208.58,207.64 210.88,207.64 213.18,207.63 215.48,207.63 217.79,207.62 220.09,207.62 222.39,207.61 224.69,207.61 227.00,207.60 229.30,207.60" fill="none" stroke="#333" stroke-width="0.5"/>
<circle cx="139.50" cy="207.80" r="1.25" fill="#fff" stroke="#1a1a1a" stroke-width="0.55"/>
<circle cx="141.80" cy="207.79" r="1.25" fill="#fff" stroke="#1a1a1a" stroke-width="0.55"/>
<circle cx="144.11" cy="207.79" r="1.25" fill="#fff" stroke="#1a1a1a" stroke-width="0.55"/>
<circle cx="146.41" cy="207.78" r="1.25" fill="#fff" stroke="#1a1a1a" stroke-width="0.55"/>
<circle cx="148.71" cy="207.78" r="1.25" fill="#fff" stroke="#1a1a1a" stroke-width="0.55"/>
<circle cx="151.01" cy="207.77" r="1.25" fill="#fff" stroke="#1a1a1a" stroke-width="0.55"/>
<circle cx="153.32" cy="207.77" r="1.25" fill="#fff" stroke="#1a1a1a" stroke-width="0.55"/>
<circle cx="155.62" cy="207.76" r="1.25" fill="#fff" stroke="#1a1a1a" stroke-width="0.55"/>
<circle cx="157.92" cy="207.76" r="1.25" fill="#fff" stroke="#1a1a1a" stroke-width="0.55"/>
<circle cx="160.22" cy="207.75" r="1.25" fill="#fff" stroke="#1a1a1a" stroke-width="0.55"/>
<circle cx="162.53" cy="207.75" r="1.25" fill="#fff" stroke="#1a1a1a" stroke-width="0.55"/>
<circle cx="164.83" cy="207.74" r="1.25" fill="#fff" stroke="#1a1a1a" stroke-width="0.55"/>
<circle cx="167.13" cy="207.74" r="1.25" fill="#fff" stroke="#1a1a1a" stroke-width="0.55"/>
<circle cx="169.43" cy="207.73" r="1.25" fill="#fff" stroke="#1a1a1a" stroke-width="0.55"/>
<circle cx="171.74" cy="207.73" r="1.25" fill="#fff" stroke="#1a1a1a" stroke-width="0.55"/>
<circle cx="174.04" cy="207.72" r="1.25" fill="#fff" stroke="#1a1a1a" stroke-width="0.55"/>
<circle cx="176.34" cy="207.72" r="1.25" fill="#fff" stroke="#1a1a1a" stroke-width="0.55"/>
<circle cx="178.64" cy="207.71" r="1.25" fill="#fff" stroke="#1a1a1a" stroke-width="0.55"/>
<circle cx="180.95" cy="207.71" r="1.25" fill="#fff" stroke="#1a1a1a" stroke-width="0.55"/>
<circle cx="183.25" cy="207.70" r="1.25" fill="#fff" stroke="#1a1a1a" stroke-width="0.55"/>
<circle cx="185.55" cy="207.70" r="1.25" fill="#fff" stroke="#1a1a1a" stroke-width="0.55"/>
<circle cx="187.85" cy="207.69" r="1.25" fill="#fff" stroke="#1a1a1a" stroke-width="0.55"/>
<circle cx="190.16" cy="207.69" r="1.25" fill="#fff" stroke="#1a1a1a" stroke-width="0.55"/>
<circle cx="192.46" cy="207.68" r="1.25" fill="#fff" stroke="#1a1a1a" stroke-width="0.55"/>
<circle cx="194.76" cy="207.68" r="1.25" fill="#fff" stroke="#1a1a1a" stroke-width="0.55"/>
<circle cx="197.06" cy="207.67" r="1.25" fill="#fff" stroke="#1a1a1a" stroke-width="0.55"/>
<circle cx="199.37" cy="207.67" r="1.25" fill="#fff" stroke="#1a1a1a" stroke-width="0.55"/>
<circle cx="201.67" cy="207.66" r="1.25" fill="#fff" stroke="#1a1a1a" stroke-width="0.55"/>
<circle cx="203.97" cy="207.66" r="1.25" fill="#fff" stroke="#1a1a1a" stroke-width="0.55"/>
<circle cx="206.27" cy="207.65" r="1.25" fill="#fff" stroke="#1a1a1a" stroke-width="0.55"/>
<circle cx="208.58" cy="207.64" r="1.25" fill="#fff" stroke="#1a1a1a" stroke-width="0.55"/>
<circle cx="210.88" cy="207.64" r="1.25" fill="#fff" stroke="#1a1a1a" stroke-width="0.55"/>
<circle cx="213.18" cy="207.63" r="1.25" fill="#fff" stroke="#1a1a1a" stroke-width="0.55"/>
<circle cx="215.48" cy="207.63" r="1.25" fill="#fff" stroke="#1a1a1a" stroke-width="0.55"/>
<circle cx="217.79" cy="207.62" r="1.25" fill="#fff" stroke="#1a1a1a" stroke-width="0.55"/>
<circle cx="220.09" cy="207.62" r="1.25" fill="#fff" stroke="#1a1a1a" stroke-width="0.55"/>
<circle cx="222.39" cy="207.61" r="1.25" fill="#fff" stroke="#1a1a1a" stroke-width="0.55"/>
<circle cx="224.69" cy="207.61" r="1.25" fill="#fff" stroke="#1a1a1a" stroke-width="0.55"/>
<circle cx="227.00" cy="207.60" r="1.25" fill="#fff" stroke="#1a1a1a" stroke-width="0.55"/>
<circle cx="229.30" cy="207.60" r="1.25" fill="#fff" stroke="#1a1a1a" stroke-width="0.55"/>
<polyline points="139.50,208.56 141.80,208.09 144.11,208.33 146.41,208.51 148.71,207.88 151.01,208.08 153.32,208.31 155.62,207.84 157.92,208.22 160.22,208.55 162.53,208.08 164.83,208.35 167.13,208.50 169.43,207.87 171.74,208.09 174.04,208.30 176.34,207.83 178.64,208.24 180.95,208.54 183.25,208.07 185.55,208.36 187.85,208.48 190.16,207.87 192.46,207.31 194.76,206.40 197.06,204.69 199.37,201.18 201.67,197.17 203.97,191.66 206.27,185.14 208.58,178.12 210.88,173.11 213.18,169.10 215.48,164.89 217.79,161.58 220.09,158.58 222.39,155.87 224.69,153.26 227.00,150.56 229.30,148.25" fill="none" stroke="#000" stroke-width="0.6"/>
<rect x="138.05" y="207.11" width="2.9" height="2.9" rx="0.75" fill="#000"/>
<rect x="140.35" y="206.64" width="2.9" height="2.9" rx="0.75" fill="#000"/>
<rect x="142.66" y="206.88" width="2.9" height="2.9" rx="0.75" fill="#000"/>
<rect x="144.96" y="207.06" width="2.9" height="2.9" rx="0.75" fill="#000"/>
<rect x="147.26" y="206.43" width="2.9" height="2.9" rx="0.75" fill="#000"/>
<rect x="149.56" y="206.63" width="2.9" height="2.9" rx="0.75" fill="#000"/>
<rect x="151.87" y="206.86" width="2.9" height="2.9" rx="0.75" fill="#000"/>
<rect x="154.17" y="206.39" width="2.9" height="2.9" rx="0.75" fill="#000"/>
<rect x="156.47" y="206.77" width="2.9" height="2.9" rx="0.75" fill="#000"/>
<rect x="158.77" y="207.10" width="2.9" height="2.9" rx="0.75" fill="#000"/>
<rect x="161.08" y="206.63" width="2.9" height="2.9" rx="0.75" fill="#000"/>
<rect x="163.38" y="206.90" width="2.9" height="2.9" rx="0.75" fill="#000"/>
<rect x="165.68" y="207.05" width="2.9" height="2.9" rx="0.75" fill="#000"/>
<rect x="167.98" y="206.42" width="2.9" height="2.9" rx="0.75" fill="#000"/>
<rect x="170.29" y="206.64" width="2.9" height="2.9" rx="0.75" fill="#000"/>
<rect x="172.59" y="206.85" width="2.9" height="2.9" rx="0.75" fill="#000"/>
<rect x="174.89" y="206.38" width="2.9" height="2.9" rx="0.75" fill="#000"/>
<rect x="177.19" y="206.79" width="2.9" height="2.9" rx="0.75" fill="#000"/>
<rect x="179.50" y="207.09" width="2.9" height="2.9" rx="0.75" fill="#000"/>
<rect x="181.80" y="206.62" width="2.9" height="2.9" rx="0.75" fill="#000"/>
<rect x="184.10" y="206.91" width="2.9" height="2.9" rx="0.75" fill="#000"/>
<rect x="186.40" y="207.03" width="2.9" height="2.9" rx="0.75" fill="#000"/>
<rect x="188.71" y="206.42" width="2.9" height="2.9" rx="0.75" fill="#000"/>
<rect x="191.01" y="205.86" width="2.9" height="2.9" rx="0.75" fill="#000"/>
<rect x="193.31" y="204.95" width="2.9" height="2.9" rx="0.75" fill="#000"/>
<rect x="195.61" y="203.24" width="2.9" height="2.9" rx="0.75" fill="#000"/>
<rect x="197.92" y="199.73" width="2.9" height="2.9" rx="0.75" fill="#000"/>
<rect x="200.22" y="195.72" width="2.9" height="2.9" rx="0.75" fill="#000"/>
<rect x="202.52" y="190.21" width="2.9" height="2.9" rx="0.75" fill="#000"/>
<rect x="204.82" y="183.69" width="2.9" height="2.9" rx="0.75" fill="#000"/>
<rect x="207.13" y="176.68" width="2.9" height="2.9" rx="0.75" fill="#000"/>
<rect x="209.43" y="171.66" width="2.9" height="2.9" rx="0.75" fill="#000"/>
<rect x="211.73" y="167.65" width="2.9" height="2.9" rx="0.75" fill="#000"/>
<rect x="214.03" y="163.44" width="2.9" height="2.9" rx="0.75" fill="#000"/>
<rect x="216.34" y="160.13" width="2.9" height="2.9" rx="0.75" fill="#000"/>
<rect x="218.64" y="157.13" width="2.9" height="2.9" rx="0.75" fill="#000"/>
<rect x="220.94" y="154.42" width="2.9" height="2.9" rx="0.75" fill="#000"/>
<rect x="223.24" y="151.81" width="2.9" height="2.9" rx="0.75" fill="#000"/>
<rect x="225.55" y="149.11" width="2.9" height="2.9" rx="0.75" fill="#000"/>
<rect x="227.85" y="146.80" width="2.9" height="2.9" rx="0.75" fill="#000"/>
<line x1="258.68" y1="128.80" x2="258.68" y2="219.30" stroke="#b4b4b4" stroke-width="0.9"/>
<line x1="270.15" y1="128.80" x2="270.15" y2="219.30" stroke="#b4b4b4" stroke-width="0.9"/>
<line x1="281.63" y1="128.80" x2="281.63" y2="219.30" stroke="#b4b4b4" stroke-width="0.9"/>
<line x1="293.10" y1="128.80" x2="293.10" y2="219.30" stroke="#b4b4b4" stroke-width="0.9"/>
<line x1="304.58" y1="128.80" x2="304.58" y2="219.30" stroke="#b4b4b4" stroke-width="0.9"/>
<line x1="316.05" y1="128.80" x2="316.05" y2="219.30" stroke="#b4b4b4" stroke-width="0.9"/>
<line x1="327.53" y1="128.80" x2="327.53" y2="219.30" stroke="#b4b4b4" stroke-width="0.9"/>
<line x1="339.00" y1="128.80" x2="339.00" y2="219.30" stroke="#8c8c8c" stroke-width="0.9"/>
<line x1="249.50" y1="128.80" x2="339.00" y2="128.80" stroke="#444" stroke-width="0.9"/>
<line x1="249.50" y1="128.40" x2="249.50" y2="219.80" stroke="#1a1a1a" stroke-width="0.9"/>
<line x1="249.10" y1="219.30" x2="339.40" y2="219.30" stroke="#1a1a1a" stroke-width="1"/>
<line x1="258.68" y1="219.30" x2="258.68" y2="221.10" stroke="#1a1a1a" stroke-width="0.7"/>
<line x1="270.15" y1="219.30" x2="270.15" y2="221.10" stroke="#1a1a1a" stroke-width="0.7"/>
<line x1="281.63" y1="219.30" x2="281.63" y2="221.10" stroke="#1a1a1a" stroke-width="0.7"/>
<line x1="293.10" y1="219.30" x2="293.10" y2="221.10" stroke="#1a1a1a" stroke-width="0.7"/>
<line x1="304.58" y1="219.30" x2="304.58" y2="221.10" stroke="#1a1a1a" stroke-width="0.7"/>
<line x1="316.05" y1="219.30" x2="316.05" y2="221.10" stroke="#1a1a1a" stroke-width="0.7"/>
<line x1="327.53" y1="219.30" x2="327.53" y2="221.10" stroke="#1a1a1a" stroke-width="0.7"/>
<line x1="339.00" y1="219.30" x2="339.00" y2="221.10" stroke="#1a1a1a" stroke-width="0.7"/>
<text x="269.75" y="227.00" class="tk" font-size="5.6" text-anchor="middle">10</text>
<text x="292.70" y="227.00" class="tk" font-size="5.6" text-anchor="middle">20</text>
<text x="315.65" y="227.00" class="tk" font-size="5.6" text-anchor="middle">30</text>
<text x="338.60" y="227.00" class="tk" font-size="5.6" text-anchor="middle">40</text>
<line x1="247.60" y1="213.40" x2="249.50" y2="213.40" stroke="#1a1a1a" stroke-width="0.7"/>
<text x="245.90" y="215.30" class="tk" text-anchor="end">0.000</text>
<line x1="247.60" y1="201.31" x2="249.50" y2="201.31" stroke="#1a1a1a" stroke-width="0.7"/>
<text x="245.90" y="203.21" class="tk" text-anchor="end">0.200</text>
<line x1="247.60" y1="189.23" x2="249.50" y2="189.23" stroke="#1a1a1a" stroke-width="0.7"/>
<text x="245.90" y="191.13" class="tk" text-anchor="end">0.400</text>
<line x1="247.60" y1="177.14" x2="249.50" y2="177.14" stroke="#1a1a1a" stroke-width="0.7"/>
<text x="245.90" y="179.04" class="tk" text-anchor="end">0.600</text>
<line x1="247.60" y1="165.06" x2="249.50" y2="165.06" stroke="#1a1a1a" stroke-width="0.7"/>
<text x="245.90" y="166.96" class="tk" text-anchor="end">0.800</text>
<line x1="247.60" y1="152.97" x2="249.50" y2="152.97" stroke="#1a1a1a" stroke-width="0.7"/>
<text x="245.90" y="154.87" class="tk" text-anchor="end">1.000</text>
<line x1="247.60" y1="140.89" x2="249.50" y2="140.89" stroke="#1a1a1a" stroke-width="0.7"/>
<text x="245.90" y="142.79" class="tk" text-anchor="end">1.200</text>
<line x1="247.60" y1="128.80" x2="249.50" y2="128.80" stroke="#1a1a1a" stroke-width="0.7"/>
<text x="245.90" y="130.70" class="tk" text-anchor="end">1.400</text>
<line x1="249.50" y1="212.40" x2="339.00" y2="212.40" stroke="#222" stroke-width="0.8" stroke-dasharray="1 1.6"/>
<text x="292.40" y="126.60" class="ti" text-anchor="middle">Neuropilin-1</text>
<polyline points="249.50,213.40 251.79,213.40 254.09,213.40 256.38,213.40 258.68,213.40 260.97,213.40 263.27,213.40 265.56,213.40 267.86,213.40 270.15,213.40 272.45,213.40 274.74,213.40 277.04,213.40 279.33,213.40 281.63,213.40 283.92,213.40 286.22,213.40 288.51,213.40 290.81,213.40 293.10,213.40 295.40,213.40 297.69,213.40 299.99,213.40 302.28,213.40 304.58,213.40 306.87,213.40 309.17,213.40 311.46,212.67 313.76,211.28 316.05,208.87 318.35,205.54 320.64,201.92 322.94,196.78 325.23,190.44 327.53,184.70 329.82,179.56 332.12,175.03 334.41,171.10 336.71,167.78 339.00,165.06" fill="none" stroke="#333" stroke-width="0.5"/>
<circle cx="249.50" cy="213.40" r="1.25" fill="#fff" stroke="#1a1a1a" stroke-width="0.55"/>
<circle cx="251.79" cy="213.40" r="1.25" fill="#fff" stroke="#1a1a1a" stroke-width="0.55"/>
<circle cx="254.09" cy="213.40" r="1.25" fill="#fff" stroke="#1a1a1a" stroke-width="0.55"/>
<circle cx="256.38" cy="213.40" r="1.25" fill="#fff" stroke="#1a1a1a" stroke-width="0.55"/>
<circle cx="258.68" cy="213.40" r="1.25" fill="#fff" stroke="#1a1a1a" stroke-width="0.55"/>
<circle cx="260.97" cy="213.40" r="1.25" fill="#fff" stroke="#1a1a1a" stroke-width="0.55"/>
<circle cx="263.27" cy="213.40" r="1.25" fill="#fff" stroke="#1a1a1a" stroke-width="0.55"/>
<circle cx="265.56" cy="213.40" r="1.25" fill="#fff" stroke="#1a1a1a" stroke-width="0.55"/>
<circle cx="267.86" cy="213.40" r="1.25" fill="#fff" stroke="#1a1a1a" stroke-width="0.55"/>
<circle cx="270.15" cy="213.40" r="1.25" fill="#fff" stroke="#1a1a1a" stroke-width="0.55"/>
<circle cx="272.45" cy="213.40" r="1.25" fill="#fff" stroke="#1a1a1a" stroke-width="0.55"/>
<circle cx="274.74" cy="213.40" r="1.25" fill="#fff" stroke="#1a1a1a" stroke-width="0.55"/>
<circle cx="277.04" cy="213.40" r="1.25" fill="#fff" stroke="#1a1a1a" stroke-width="0.55"/>
<circle cx="279.33" cy="213.40" r="1.25" fill="#fff" stroke="#1a1a1a" stroke-width="0.55"/>
<circle cx="281.63" cy="213.40" r="1.25" fill="#fff" stroke="#1a1a1a" stroke-width="0.55"/>
<circle cx="283.92" cy="213.40" r="1.25" fill="#fff" stroke="#1a1a1a" stroke-width="0.55"/>
<circle cx="286.22" cy="213.40" r="1.25" fill="#fff" stroke="#1a1a1a" stroke-width="0.55"/>
<circle cx="288.51" cy="213.40" r="1.25" fill="#fff" stroke="#1a1a1a" stroke-width="0.55"/>
<circle cx="290.81" cy="213.40" r="1.25" fill="#fff" stroke="#1a1a1a" stroke-width="0.55"/>
<circle cx="293.10" cy="213.40" r="1.25" fill="#fff" stroke="#1a1a1a" stroke-width="0.55"/>
<circle cx="295.40" cy="213.40" r="1.25" fill="#fff" stroke="#1a1a1a" stroke-width="0.55"/>
<circle cx="297.69" cy="213.40" r="1.25" fill="#fff" stroke="#1a1a1a" stroke-width="0.55"/>
<circle cx="299.99" cy="213.40" r="1.25" fill="#fff" stroke="#1a1a1a" stroke-width="0.55"/>
<circle cx="302.28" cy="213.40" r="1.25" fill="#fff" stroke="#1a1a1a" stroke-width="0.55"/>
<circle cx="304.58" cy="213.40" r="1.25" fill="#fff" stroke="#1a1a1a" stroke-width="0.55"/>
<circle cx="306.87" cy="213.40" r="1.25" fill="#fff" stroke="#1a1a1a" stroke-width="0.55"/>
<circle cx="309.17" cy="213.40" r="1.25" fill="#fff" stroke="#1a1a1a" stroke-width="0.55"/>
<circle cx="311.46" cy="212.67" r="1.25" fill="#fff" stroke="#1a1a1a" stroke-width="0.55"/>
<circle cx="313.76" cy="211.28" r="1.25" fill="#fff" stroke="#1a1a1a" stroke-width="0.55"/>
<circle cx="316.05" cy="208.87" r="1.25" fill="#fff" stroke="#1a1a1a" stroke-width="0.55"/>
<circle cx="318.35" cy="205.54" r="1.25" fill="#fff" stroke="#1a1a1a" stroke-width="0.55"/>
<circle cx="320.64" cy="201.92" r="1.25" fill="#fff" stroke="#1a1a1a" stroke-width="0.55"/>
<circle cx="322.94" cy="196.78" r="1.25" fill="#fff" stroke="#1a1a1a" stroke-width="0.55"/>
<circle cx="325.23" cy="190.44" r="1.25" fill="#fff" stroke="#1a1a1a" stroke-width="0.55"/>
<circle cx="327.53" cy="184.70" r="1.25" fill="#fff" stroke="#1a1a1a" stroke-width="0.55"/>
<circle cx="329.82" cy="179.56" r="1.25" fill="#fff" stroke="#1a1a1a" stroke-width="0.55"/>
<circle cx="332.12" cy="175.03" r="1.25" fill="#fff" stroke="#1a1a1a" stroke-width="0.55"/>
<circle cx="334.41" cy="171.10" r="1.25" fill="#fff" stroke="#1a1a1a" stroke-width="0.55"/>
<circle cx="336.71" cy="167.78" r="1.25" fill="#fff" stroke="#1a1a1a" stroke-width="0.55"/>
<circle cx="339.00" cy="165.06" r="1.25" fill="#fff" stroke="#1a1a1a" stroke-width="0.55"/>
<polyline points="249.50,213.76 251.79,213.29 254.09,213.53 256.38,213.71 258.68,213.08 260.97,213.28 263.27,213.51 265.56,213.04 267.86,213.42 270.15,213.75 272.45,213.28 274.74,213.55 277.04,213.70 279.33,213.07 281.63,213.29 283.92,213.50 286.22,213.03 288.51,213.44 290.81,213.74 293.10,213.27 295.40,213.56 297.69,213.68 299.99,213.07 302.28,213.31 304.58,212.80 306.87,212.07 309.17,210.08 311.46,206.45 313.76,200.71 316.05,192.25 318.35,181.98 320.64,171.10 322.94,159.01 325.23,152.97 327.53,146.93 329.82,143.30 332.12,139.98 334.41,137.86 336.71,136.05 339.00,133.94" fill="none" stroke="#000" stroke-width="0.6"/>
<rect x="248.05" y="212.31" width="2.9" height="2.9" rx="0.75" fill="#000"/>
<rect x="250.34" y="211.84" width="2.9" height="2.9" rx="0.75" fill="#000"/>
<rect x="252.64" y="212.08" width="2.9" height="2.9" rx="0.75" fill="#000"/>
<rect x="254.93" y="212.26" width="2.9" height="2.9" rx="0.75" fill="#000"/>
<rect x="257.23" y="211.63" width="2.9" height="2.9" rx="0.75" fill="#000"/>
<rect x="259.52" y="211.83" width="2.9" height="2.9" rx="0.75" fill="#000"/>
<rect x="261.82" y="212.06" width="2.9" height="2.9" rx="0.75" fill="#000"/>
<rect x="264.11" y="211.59" width="2.9" height="2.9" rx="0.75" fill="#000"/>
<rect x="266.41" y="211.97" width="2.9" height="2.9" rx="0.75" fill="#000"/>
<rect x="268.70" y="212.30" width="2.9" height="2.9" rx="0.75" fill="#000"/>
<rect x="271.00" y="211.83" width="2.9" height="2.9" rx="0.75" fill="#000"/>
<rect x="273.29" y="212.10" width="2.9" height="2.9" rx="0.75" fill="#000"/>
<rect x="275.59" y="212.25" width="2.9" height="2.9" rx="0.75" fill="#000"/>
<rect x="277.88" y="211.62" width="2.9" height="2.9" rx="0.75" fill="#000"/>
<rect x="280.18" y="211.84" width="2.9" height="2.9" rx="0.75" fill="#000"/>
<rect x="282.47" y="212.05" width="2.9" height="2.9" rx="0.75" fill="#000"/>
<rect x="284.77" y="211.58" width="2.9" height="2.9" rx="0.75" fill="#000"/>
<rect x="287.06" y="211.99" width="2.9" height="2.9" rx="0.75" fill="#000"/>
<rect x="289.36" y="212.29" width="2.9" height="2.9" rx="0.75" fill="#000"/>
<rect x="291.65" y="211.82" width="2.9" height="2.9" rx="0.75" fill="#000"/>
<rect x="293.95" y="212.11" width="2.9" height="2.9" rx="0.75" fill="#000"/>
<rect x="296.24" y="212.23" width="2.9" height="2.9" rx="0.75" fill="#000"/>
<rect x="298.54" y="211.62" width="2.9" height="2.9" rx="0.75" fill="#000"/>
<rect x="300.83" y="211.86" width="2.9" height="2.9" rx="0.75" fill="#000"/>
<rect x="303.13" y="211.35" width="2.9" height="2.9" rx="0.75" fill="#000"/>
<rect x="305.42" y="210.62" width="2.9" height="2.9" rx="0.75" fill="#000"/>
<rect x="307.72" y="208.63" width="2.9" height="2.9" rx="0.75" fill="#000"/>
<rect x="310.01" y="205.00" width="2.9" height="2.9" rx="0.75" fill="#000"/>
<rect x="312.31" y="199.26" width="2.9" height="2.9" rx="0.75" fill="#000"/>
<rect x="314.60" y="190.80" width="2.9" height="2.9" rx="0.75" fill="#000"/>
<rect x="316.90" y="180.53" width="2.9" height="2.9" rx="0.75" fill="#000"/>
<rect x="319.19" y="169.65" width="2.9" height="2.9" rx="0.75" fill="#000"/>
<rect x="321.49" y="157.56" width="2.9" height="2.9" rx="0.75" fill="#000"/>
<rect x="323.78" y="151.52" width="2.9" height="2.9" rx="0.75" fill="#000"/>
<rect x="326.08" y="145.48" width="2.9" height="2.9" rx="0.75" fill="#000"/>
<rect x="328.37" y="141.85" width="2.9" height="2.9" rx="0.75" fill="#000"/>
<rect x="330.67" y="138.53" width="2.9" height="2.9" rx="0.75" fill="#000"/>
<rect x="332.96" y="136.41" width="2.9" height="2.9" rx="0.75" fill="#000"/>
<rect x="335.26" y="134.60" width="2.9" height="2.9" rx="0.75" fill="#000"/>
<rect x="337.55" y="132.49" width="2.9" height="2.9" rx="0.75" fill="#000"/>
<defs>
<filter id="blur1" x="-30%" y="-60%" width="160%" height="220%"><feGaussianBlur stdDeviation="1.0"/></filter>
<filter id="blur2" x="-30%" y="-80%" width="160%" height="260%"><feGaussianBlur stdDeviation="0.8"/></filter>
<filter id="blur3" x="-30%" y="-80%" width="160%" height="260%"><feGaussianBlur stdDeviation="1.6"/></filter>
<filter id="noise" x="0" y="0" width="100%" height="100%">
  <feTurbulence type="fractalNoise" baseFrequency="0.32" numOctaves="3" seed="7" result="t"/>
  <feColorMatrix type="matrix" values="0 0 0 0 0  0 0 0 0 0  0 0 0 0 0  -3.2 0 0 0 1.75" in="t" result="n"/>
  <feComposite in="n" in2="SourceGraphic" operator="in"/>
</filter>
<filter id="noise2" x="0" y="0" width="100%" height="100%">
  <feTurbulence type="fractalNoise" baseFrequency="0.3 0.6" numOctaves="2" seed="11" result="t"/>
  <feColorMatrix type="matrix" values="0 0 0 0 1  0 0 0 0 1  0 0 0 0 1  2.4 0 0 0 -1.0" in="t" result="n"/>
  <feComposite in="n" in2="SourceGraphic" operator="in"/>
</filter>
<linearGradient id="g1" x1="0" y1="0" x2="1" y2="0">
  <stop offset="0" stop-color="#f2f2f2"/>
  <stop offset="0.15" stop-color="#ececec"/>
  <stop offset="0.3" stop-color="#dedede"/>
  <stop offset="0.45" stop-color="#cccccc"/>
  <stop offset="0.7" stop-color="#c2c2c2"/>
  <stop offset="1" stop-color="#bababa"/>
</linearGradient>
<linearGradient id="g1v" x1="0" y1="0" x2="0" y2="1">
  <stop offset="0" stop-color="#000" stop-opacity="0.10"/>
  <stop offset="0.35" stop-color="#000" stop-opacity="0.05"/>
  <stop offset="0.65" stop-color="#fff" stop-opacity="0.0"/>
  <stop offset="1" stop-color="#fff" stop-opacity="0.15"/>
</linearGradient>
<linearGradient id="g2" x1="0" y1="0" x2="0" y2="1">
  <stop offset="0" stop-color="#3c3c3c"/>
  <stop offset="0.06" stop-color="#545454"/>
  <stop offset="0.13" stop-color="#626262"/>
  <stop offset="0.24" stop-color="#646464"/>
  <stop offset="0.29" stop-color="#333"/>
  <stop offset="0.33" stop-color="#0c0c0c"/>
  <stop offset="0.62" stop-color="#0a0a0a"/>
  <stop offset="0.665" stop-color="#404040"/>
  <stop offset="0.71" stop-color="#4a4a4a"/>
  <stop offset="0.755" stop-color="#222"/>
  <stop offset="0.83" stop-color="#282828"/>
  <stop offset="0.9" stop-color="#666"/>
  <stop offset="1" stop-color="#8e8e8e"/>
</linearGradient>
<linearGradient id="g2h" x1="0" y1="0" x2="1" y2="0">
  <stop offset="0" stop-color="#000" stop-opacity="0.3"/>
  <stop offset="0.06" stop-color="#000" stop-opacity="0.0"/>
  <stop offset="0.6" stop-color="#fff" stop-opacity="0.0"/>
  <stop offset="1" stop-color="#fff" stop-opacity="0.14"/>
</linearGradient>
<linearGradient id="nmask" x1="0" y1="0" x2="1" y2="0">
  <stop offset="0" stop-color="#000" stop-opacity="0.06"/>
  <stop offset="0.2" stop-color="#000" stop-opacity="0.12"/>
  <stop offset="0.35" stop-color="#000" stop-opacity="0.3"/>
  <stop offset="0.55" stop-color="#000" stop-opacity="0.42"/>
  <stop offset="1" stop-color="#000" stop-opacity="0.45"/>
</linearGradient>
<linearGradient id="nmask2" x1="0" y1="0" x2="1" y2="0">
  <stop offset="0" stop-color="#000" stop-opacity="0.3"/>
  <stop offset="1" stop-color="#000" stop-opacity="0.15"/>
</linearGradient>
<linearGradient id="nmask3" x1="0" y1="0" x2="1" y2="0">
  <stop offset="0" stop-color="#fff" stop-opacity="0.25"/>
  <stop offset="1" stop-color="#fff" stop-opacity="0.25"/>
</linearGradient>
<linearGradient id="wfade" x1="0" y1="0" x2="1" y2="0">
  <stop offset="0" stop-color="#fff" stop-opacity="0.45"/>
  <stop offset="0.45" stop-color="#fff" stop-opacity="0.3"/>
  <stop offset="1" stop-color="#fff" stop-opacity="0"/>
</linearGradient>
<linearGradient id="band1" x1="0" y1="0" x2="1" y2="0">
  <stop offset="0" stop-color="#000" stop-opacity="0.25"/>
  <stop offset="0.12" stop-color="#000" stop-opacity="0.75"/>
  <stop offset="0.3" stop-color="#000" stop-opacity="0.95"/>
  <stop offset="0.9" stop-color="#000" stop-opacity="1"/>
  <stop offset="1" stop-color="#000" stop-opacity="0.7"/>
</linearGradient>
</defs>
<rect x="386" y="184.5" width="85.5" height="26.3" fill="url(#g1)"/>
<rect x="386" y="184.5" width="85.5" height="26.3" fill="url(#g1v)"/>
<rect x="386" y="184.5" width="85.5" height="26.3" fill="url(#nmask)" filter="url(#noise)"/>
<rect x="386" y="184.5" width="30" height="26.3" fill="url(#wfade)"/>
<rect x="428" y="193" width="40" height="8" fill="#000" opacity="0.25" filter="url(#blur3)"/>
<path d="M431,198.3 C431.5,196.1 436,195.2 442,195.1 L462,195.2 C466,195.4 466.8,196.8 466.6,198.5 C466.4,200.4 464,201.2 460,201.2 L440,201.3 C434,201.3 430.5,200.6 431,198.3 Z" fill="url(#band1)" filter="url(#blur1)"/>
<rect x="473.5" y="184.8" width="46" height="25.6" fill="url(#g2)"/>
<rect x="473.5" y="184.8" width="46" height="25.6" fill="url(#g2h)"/>
<rect x="473.5" y="185.5" width="46" height="7" fill="url(#nmask2)" filter="url(#noise)"/>
<rect x="399" y="218.8" width="31" height="19.5" rx="6" fill="#000" opacity="0.3" filter="url(#blur3)"/>
<rect x="395.6" y="222.4" width="33.4" height="12.6" rx="4" fill="#050505" filter="url(#blur1)"/>
<rect x="400" y="228.2" width="26" height="0.9" fill="#444" opacity="0.5" filter="url(#blur2)"/>
<ellipse cx="397.5" cy="225.5" rx="3" ry="2.6" fill="#050505" filter="url(#blur2)"/>
<ellipse cx="397.5" cy="232" rx="3" ry="2.6" fill="#050505" filter="url(#blur2)"/>
<path d="M393.8,228.7 L398.5,227.9 L398.5,229.5 Z" fill="#fff" opacity="0.5" filter="url(#blur2)"/>
<rect x="396.5" y="223" width="32" height="11.5" fill="#fff" opacity="0.15" filter="url(#noise2)"/>
<circle cx="456.8" cy="222.8" r="0.7" fill="#444"/>
<text x="356.6" y="182.2" class="big" font-size="13">B</text>
<text x="407.3" y="179.3" class="lb" font-size="8.5" text-anchor="middle">PC</text>
<line x1="401.8" y1="179.7" x2="412.8" y2="179.7" stroke="#333" stroke-width="0.5"/>
<text x="447.8" y="179.6" class="lb" font-size="8.6" text-anchor="middle">IgM+B</text>
<text x="494.1" y="179.3" class="lb" font-size="8.8" text-anchor="middle">J558</text>
<text x="371.1" y="198.6" class="lb" font-size="8.2" text-anchor="middle">TBP</text>
<text x="368" y="232" class="lb" font-size="8.4" text-anchor="middle">IgG-H</text>
</svg>
</body></html>
